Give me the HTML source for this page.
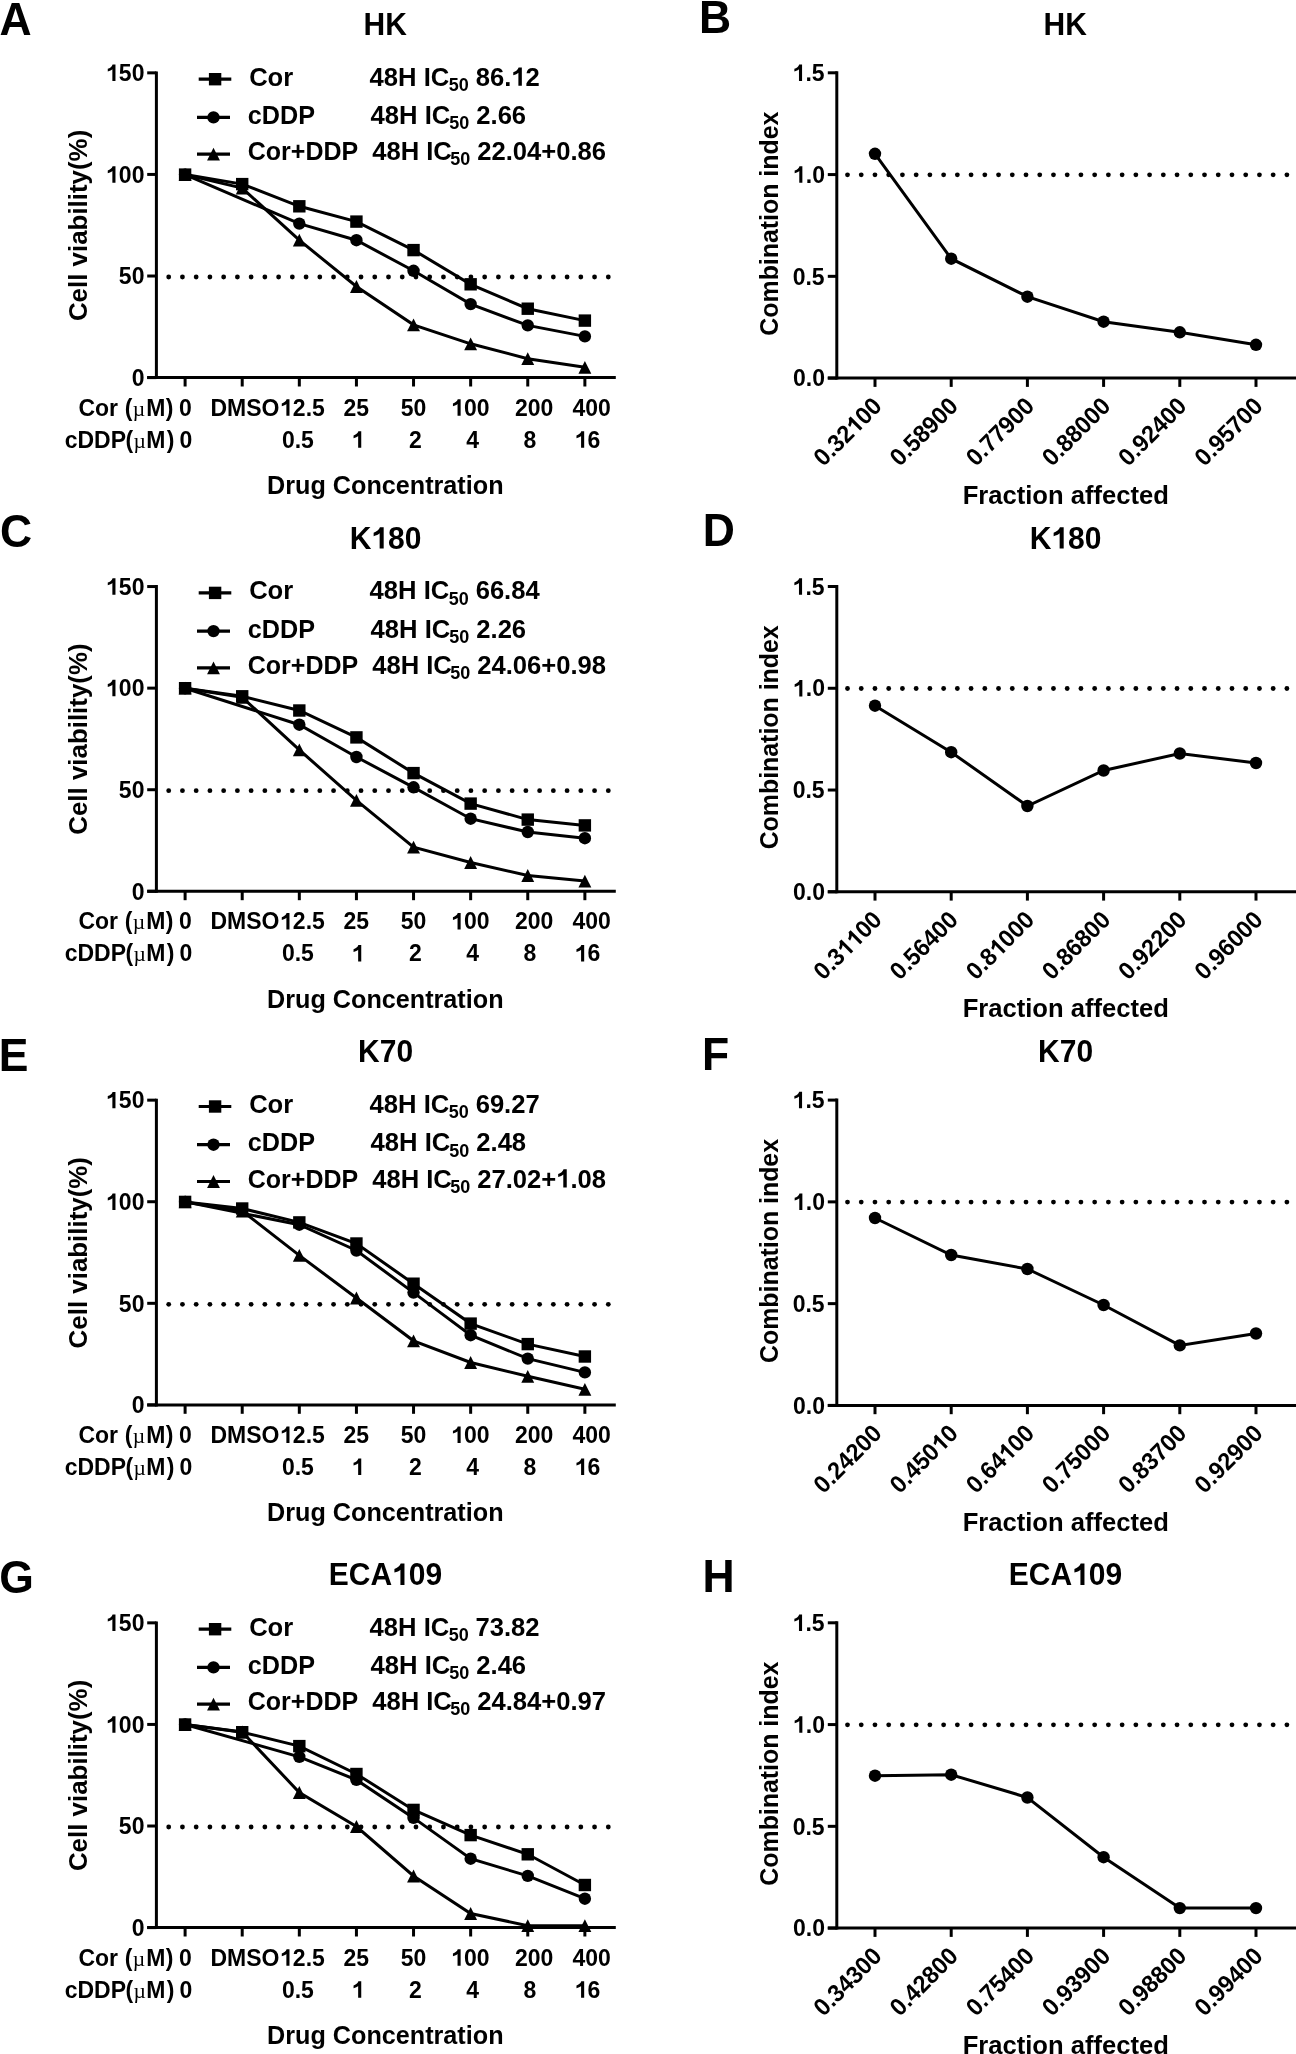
<!DOCTYPE html>
<html><head><meta charset="utf-8"><style>
html,body{margin:0;padding:0;background:#fff;}
svg{display:block;will-change:transform;}
text{font-kerning:none;}
</style></head><body>
<svg width="1296" height="2054" viewBox="0 0 1296 2054">
<rect width="1296" height="2054" fill="#fff"/>
<g font-family="Liberation Sans" font-weight="bold" font-size="44.50" transform="translate(-0.51 35.40) scale(1 1.040)"><text x="0.00" y="0">A</text></g>
<g font-family="Liberation Sans" font-weight="bold" font-size="44.50" transform="translate(699.02 32.60) scale(1 1.040)"><text x="0.00" y="0">B</text></g>
<g font-family="Liberation Sans" font-weight="bold" font-size="30.00" transform="translate(363.47 34.90) scale(1 1.040)"><text x="0.00" y="0">HK</text></g>
<g font-family="Liberation Sans" font-weight="bold" font-size="30.00" transform="translate(1043.47 34.90) scale(1 1.040)"><text x="0.00" y="0">HK</text></g>
<line x1="156.40" y1="71.40" x2="156.40" y2="379.10" stroke="#000" stroke-width="3.00"/>
<line x1="147.20" y1="377.60" x2="615.80" y2="377.60" stroke="#000" stroke-width="3.00"/>
<line x1="147.20" y1="72.85" x2="156.40" y2="72.85" stroke="#000" stroke-width="3.00"/>
<g font-family="Liberation Sans" font-weight="bold" font-size="23.00" transform="translate(106.07 81.05) scale(1 1.040)"><path transform="translate(0.00 0) scale(0.01123 -0.01123)" d="M837 0L561 0L561 1002C470 921 330 855 151 809L151 1048C246 1075 340 1125 420 1188C500 1251 552 1326 580 1409L837 1409Z"/><text x="12.79" y="0">50</text></g>
<line x1="147.20" y1="174.43" x2="156.40" y2="174.43" stroke="#000" stroke-width="3.00"/>
<g font-family="Liberation Sans" font-weight="bold" font-size="23.00" transform="translate(106.07 182.63) scale(1 1.040)"><path transform="translate(0.00 0) scale(0.01123 -0.01123)" d="M837 0L561 0L561 1002C470 921 330 855 151 809L151 1048C246 1075 340 1125 420 1188C500 1251 552 1326 580 1409L837 1409Z"/><text x="12.79" y="0">00</text></g>
<line x1="147.20" y1="276.02" x2="156.40" y2="276.02" stroke="#000" stroke-width="3.00"/>
<g font-family="Liberation Sans" font-weight="bold" font-size="23.00" transform="translate(118.86 284.22) scale(1 1.040)"><text x="0.00" y="0">50</text></g>
<line x1="147.20" y1="377.60" x2="156.40" y2="377.60" stroke="#000" stroke-width="3.00"/>
<g font-family="Liberation Sans" font-weight="bold" font-size="23.00" transform="translate(131.65 385.80) scale(1 1.040)"><text x="0.00" y="0">0</text></g>
<line x1="185.10" y1="377.60" x2="185.10" y2="386.50" stroke="#000" stroke-width="3.00"/>
<line x1="242.21" y1="377.60" x2="242.21" y2="386.50" stroke="#000" stroke-width="3.00"/>
<line x1="299.32" y1="377.60" x2="299.32" y2="386.50" stroke="#000" stroke-width="3.00"/>
<line x1="356.43" y1="377.60" x2="356.43" y2="386.50" stroke="#000" stroke-width="3.00"/>
<line x1="413.54" y1="377.60" x2="413.54" y2="386.50" stroke="#000" stroke-width="3.00"/>
<line x1="470.65" y1="377.60" x2="470.65" y2="386.50" stroke="#000" stroke-width="3.00"/>
<line x1="527.76" y1="377.60" x2="527.76" y2="386.50" stroke="#000" stroke-width="3.00"/>
<line x1="584.87" y1="377.60" x2="584.87" y2="386.50" stroke="#000" stroke-width="3.00"/>
<g font-family="Liberation Sans" font-weight="bold" font-size="23.00" transform="translate(78.46 415.70) scale(1 1.040)"><text x="0.00" y="0">Cor</text></g>
<g font-family="Liberation Sans" font-weight="bold" font-size="23.00" transform="translate(124.75 415.70)"><text x="0.00" y="0">(</text></g>
<g font-family="Liberation Serif" font-weight="normal" font-size="21.50" transform="translate(132.71 415.70)"><text x="0.00" y="0">µ</text></g>
<g font-family="Liberation Sans" font-weight="bold" font-size="23.00" transform="translate(146.16 415.70) scale(1 1.040)"><text x="0.00" y="0">M</text></g>
<g font-family="Liberation Sans" font-weight="bold" font-size="23.00" transform="translate(165.78 415.70)"><text x="0.00" y="0">)</text></g>
<g font-family="Liberation Sans" font-weight="bold" font-size="23.00" transform="translate(179.02 415.70) scale(1 1.040)"><text x="0.00" y="0">0</text></g>
<g font-family="Liberation Sans" font-weight="bold" font-size="23.00" transform="translate(210.46 415.70) scale(1 1.040)"><text x="0.00" y="0">DMSO</text></g>
<g font-family="Liberation Sans" font-weight="bold" font-size="23.00" transform="translate(280.08 415.70) scale(1 1.040)"><path transform="translate(0.00 0) scale(0.01123 -0.01123)" d="M837 0L561 0L561 1002C470 921 330 855 151 809L151 1048C246 1075 340 1125 420 1188C500 1251 552 1326 580 1409L837 1409Z"/><text x="12.79" y="0">2.5</text></g>
<g font-family="Liberation Sans" font-weight="bold" font-size="23.00" transform="translate(343.53 415.70) scale(1 1.040)"><text x="0.00" y="0">25</text></g>
<g font-family="Liberation Sans" font-weight="bold" font-size="23.00" transform="translate(400.83 415.70) scale(1 1.040)"><text x="0.00" y="0">50</text></g>
<g font-family="Liberation Sans" font-weight="bold" font-size="23.00" transform="translate(451.24 415.70) scale(1 1.040)"><path transform="translate(0.00 0) scale(0.01123 -0.01123)" d="M837 0L561 0L561 1002C470 921 330 855 151 809L151 1048C246 1075 340 1125 420 1188C500 1251 552 1326 580 1409L837 1409Z"/><text x="12.79" y="0">00</text></g>
<g font-family="Liberation Sans" font-weight="bold" font-size="23.00" transform="translate(514.89 415.70) scale(1 1.040)"><text x="0.00" y="0">200</text></g>
<g font-family="Liberation Sans" font-weight="bold" font-size="23.00" transform="translate(572.41 415.70) scale(1 1.040)"><text x="0.00" y="0">400</text></g>
<g font-family="Liberation Sans" font-weight="bold" font-size="23.00" transform="translate(64.70 447.70) scale(1 1.040)"><text x="0.00" y="0">cDDP</text></g>
<g font-family="Liberation Sans" font-weight="bold" font-size="23.00" transform="translate(125.45 447.70)"><text x="0.00" y="0">(</text></g>
<g font-family="Liberation Serif" font-weight="normal" font-size="21.50" transform="translate(133.51 447.70)"><text x="0.00" y="0">µ</text></g>
<g font-family="Liberation Sans" font-weight="bold" font-size="23.00" transform="translate(146.16 447.70) scale(1 1.040)"><text x="0.00" y="0">M</text></g>
<g font-family="Liberation Sans" font-weight="bold" font-size="23.00" transform="translate(166.78 447.70)"><text x="0.00" y="0">)</text></g>
<g font-family="Liberation Sans" font-weight="bold" font-size="23.00" transform="translate(179.62 447.70) scale(1 1.040)"><text x="0.00" y="0">0</text></g>
<g font-family="Liberation Sans" font-weight="bold" font-size="23.00" transform="translate(281.88 447.70) scale(1 1.040)"><text x="0.00" y="0">0.5</text></g>
<g font-family="Liberation Sans" font-weight="bold" font-size="23.00" transform="translate(351.85 447.70) scale(1 1.040)"><path transform="translate(0.00 0) scale(0.01123 -0.01123)" d="M837 0L561 0L561 1002C470 921 330 855 151 809L151 1048C246 1075 340 1125 420 1188C500 1251 552 1326 580 1409L837 1409Z"/></g>
<g font-family="Liberation Sans" font-weight="bold" font-size="23.00" transform="translate(409.07 447.70) scale(1 1.040)"><text x="0.00" y="0">2</text></g>
<g font-family="Liberation Sans" font-weight="bold" font-size="23.00" transform="translate(466.19 447.70) scale(1 1.040)"><text x="0.00" y="0">4</text></g>
<g font-family="Liberation Sans" font-weight="bold" font-size="23.00" transform="translate(523.59 447.70) scale(1 1.040)"><text x="0.00" y="0">8</text></g>
<g font-family="Liberation Sans" font-weight="bold" font-size="23.00" transform="translate(574.78 447.70) scale(1 1.040)"><path transform="translate(0.00 0) scale(0.01123 -0.01123)" d="M837 0L561 0L561 1002C470 921 330 855 151 809L151 1048C246 1075 340 1125 420 1188C500 1251 552 1326 580 1409L837 1409Z"/><text x="12.79" y="0">6</text></g>
<g font-family="Liberation Sans" font-weight="bold" font-size="25.90" transform="translate(87.40 321.09) rotate(-90)"><text x="0.00" y="0">Cell viability(%)</text></g>
<g font-family="Liberation Sans" font-weight="bold" font-size="25.20" transform="translate(267.04 494.10)"><text x="0.00" y="0">Drug Concentration</text></g>
<circle cx="168.70" cy="277.00" r="2.40"/>
<circle cx="182.44" cy="277.00" r="2.40"/>
<circle cx="196.17" cy="277.00" r="2.40"/>
<circle cx="209.91" cy="277.00" r="2.40"/>
<circle cx="223.65" cy="277.00" r="2.40"/>
<circle cx="237.39" cy="277.00" r="2.40"/>
<circle cx="251.12" cy="277.00" r="2.40"/>
<circle cx="264.86" cy="277.00" r="2.40"/>
<circle cx="278.60" cy="277.00" r="2.40"/>
<circle cx="292.34" cy="277.00" r="2.40"/>
<circle cx="306.07" cy="277.00" r="2.40"/>
<circle cx="319.81" cy="277.00" r="2.40"/>
<circle cx="333.55" cy="277.00" r="2.40"/>
<circle cx="347.29" cy="277.00" r="2.40"/>
<circle cx="361.02" cy="277.00" r="2.40"/>
<circle cx="374.76" cy="277.00" r="2.40"/>
<circle cx="388.50" cy="277.00" r="2.40"/>
<circle cx="402.24" cy="277.00" r="2.40"/>
<circle cx="415.97" cy="277.00" r="2.40"/>
<circle cx="429.71" cy="277.00" r="2.40"/>
<circle cx="443.45" cy="277.00" r="2.40"/>
<circle cx="457.19" cy="277.00" r="2.40"/>
<circle cx="470.92" cy="277.00" r="2.40"/>
<circle cx="484.66" cy="277.00" r="2.40"/>
<circle cx="498.40" cy="277.00" r="2.40"/>
<circle cx="512.14" cy="277.00" r="2.40"/>
<circle cx="525.88" cy="277.00" r="2.40"/>
<circle cx="539.61" cy="277.00" r="2.40"/>
<circle cx="553.35" cy="277.00" r="2.40"/>
<circle cx="567.09" cy="277.00" r="2.40"/>
<circle cx="580.82" cy="277.00" r="2.40"/>
<circle cx="594.56" cy="277.00" r="2.40"/>
<circle cx="608.30" cy="277.00" r="2.40"/>
<line x1="198.70" y1="79.20" x2="231.30" y2="79.20" stroke="#000" stroke-width="3.20"/>
<rect x="208.90" y="73.00" width="12.40" height="12.40"/>
<g font-family="Liberation Sans" font-weight="bold" font-size="25.60" transform="translate(249.15 85.70) scale(1 1.030)"><text x="0.00" y="0">Cor</text></g>
<g font-family="Liberation Sans" font-weight="bold" font-size="25.60" transform="translate(369.61 85.70) scale(1 1.030)"><text x="0.00" y="0">48H IC</text></g>
<g font-family="Liberation Sans" font-weight="bold" font-size="18.00" transform="translate(448.65 90.90) scale(1 1.040)"><text x="0.00" y="0">50</text></g>
<g font-family="Liberation Sans" font-weight="bold" font-size="25.60" transform="translate(475.79 85.70) scale(1 1.030)"><text x="0.00" y="0">86.</text><path transform="translate(35.59 0) scale(0.01250 -0.01250)" d="M837 0L561 0L561 1002C470 921 330 855 151 809L151 1048C246 1075 340 1125 420 1188C500 1251 552 1326 580 1409L837 1409Z"/><text x="49.83" y="0">2</text></g>
<line x1="197.00" y1="117.40" x2="230.00" y2="117.40" stroke="#000" stroke-width="3.20"/>
<circle cx="213.50" cy="117.40" r="6.20"/>
<g font-family="Liberation Sans" font-weight="bold" font-size="25.20" transform="translate(247.82 124.00) scale(1 1.030)"><text x="0.00" y="0">cDDP</text></g>
<g font-family="Liberation Sans" font-weight="bold" font-size="25.60" transform="translate(370.61 124.00) scale(1 1.030)"><text x="0.00" y="0">48H IC</text></g>
<g font-family="Liberation Sans" font-weight="bold" font-size="18.00" transform="translate(449.25 129.20) scale(1 1.040)"><text x="0.00" y="0">50</text></g>
<g font-family="Liberation Sans" font-weight="bold" font-size="25.60" transform="translate(476.31 124.00) scale(1 1.030)"><text x="0.00" y="0">2.66</text></g>
<line x1="197.00" y1="154.20" x2="230.00" y2="154.20" stroke="#000" stroke-width="3.20"/>
<polygon points="213.50,147.80 219.95,160.60 207.05,160.60"/>
<g font-family="Liberation Sans" font-weight="bold" font-size="25.00" transform="translate(247.77 160.20) scale(1 1.030)"><text x="0.00" y="0">Cor+DDP</text></g>
<g font-family="Liberation Sans" font-weight="bold" font-size="25.60" transform="translate(372.21 160.20) scale(1 1.030)"><text x="0.00" y="0">48H IC</text></g>
<g font-family="Liberation Sans" font-weight="bold" font-size="18.00" transform="translate(450.21 165.40) scale(1 1.040)"><text x="0.00" y="0">50</text></g>
<g font-family="Liberation Sans" font-weight="bold" font-size="25.60" transform="translate(477.27 160.20) scale(1 1.030)"><text x="0.00" y="0">22.04+0.86</text></g>
<polyline fill="none" stroke="#000" stroke-width="3.00" stroke-linejoin="miter" points="185.10,174.60 242.21,184.10 299.32,206.30 356.43,221.60 413.54,250.10 470.65,284.30 527.76,308.70 584.87,320.60"/>
<polyline fill="none" stroke="#000" stroke-width="3.00" stroke-linejoin="miter" points="185.10,174.60 299.32,223.60 356.43,240.20 413.54,270.80 470.65,304.10 527.76,325.40 584.87,336.40"/>
<polyline fill="none" stroke="#000" stroke-width="3.00" stroke-linejoin="miter" points="185.10,174.60 242.21,188.10 299.32,240.20 356.43,286.50 413.54,324.80 470.65,343.80 527.76,358.70 584.87,367.30"/>
<polygon points="185.10,168.20 191.55,181.00 178.65,181.00"/>
<polygon points="242.21,181.70 248.66,194.50 235.76,194.50"/>
<polygon points="299.32,233.80 305.77,246.60 292.87,246.60"/>
<polygon points="356.43,280.10 362.88,292.90 349.98,292.90"/>
<polygon points="413.54,318.40 419.99,331.20 407.09,331.20"/>
<polygon points="470.65,337.40 477.10,350.20 464.20,350.20"/>
<polygon points="527.76,352.30 534.21,365.10 521.31,365.10"/>
<polygon points="584.87,360.90 591.32,373.70 578.42,373.70"/>
<circle cx="185.10" cy="174.60" r="6.20"/>
<circle cx="299.32" cy="223.60" r="6.20"/>
<circle cx="356.43" cy="240.20" r="6.20"/>
<circle cx="413.54" cy="270.80" r="6.20"/>
<circle cx="470.65" cy="304.10" r="6.20"/>
<circle cx="527.76" cy="325.40" r="6.20"/>
<circle cx="584.87" cy="336.40" r="6.20"/>
<rect x="178.90" y="168.40" width="12.40" height="12.40"/>
<rect x="236.01" y="177.90" width="12.40" height="12.40"/>
<rect x="293.12" y="200.10" width="12.40" height="12.40"/>
<rect x="350.23" y="215.40" width="12.40" height="12.40"/>
<rect x="407.34" y="243.90" width="12.40" height="12.40"/>
<rect x="464.45" y="278.10" width="12.40" height="12.40"/>
<rect x="521.56" y="302.50" width="12.40" height="12.40"/>
<rect x="578.67" y="314.40" width="12.40" height="12.40"/>
<line x1="836.80" y1="71.30" x2="836.80" y2="379.60" stroke="#000" stroke-width="3.00"/>
<line x1="827.80" y1="378.10" x2="1300.00" y2="378.10" stroke="#000" stroke-width="3.00"/>
<line x1="827.80" y1="72.80" x2="836.80" y2="72.80" stroke="#000" stroke-width="3.00"/>
<g font-family="Liberation Sans" font-weight="bold" font-size="23.00" transform="translate(792.67 81.00) scale(1 1.040)"><path transform="translate(0.00 0) scale(0.01123 -0.01123)" d="M837 0L561 0L561 1002C470 921 330 855 151 809L151 1048C246 1075 340 1125 420 1188C500 1251 552 1326 580 1409L837 1409Z"/><text x="12.79" y="0">.5</text></g>
<line x1="827.80" y1="174.57" x2="836.80" y2="174.57" stroke="#000" stroke-width="3.00"/>
<g font-family="Liberation Sans" font-weight="bold" font-size="23.00" transform="translate(792.97 182.77) scale(1 1.040)"><path transform="translate(0.00 0) scale(0.01123 -0.01123)" d="M837 0L561 0L561 1002C470 921 330 855 151 809L151 1048C246 1075 340 1125 420 1188C500 1251 552 1326 580 1409L837 1409Z"/><text x="12.79" y="0">.0</text></g>
<line x1="827.80" y1="276.33" x2="836.80" y2="276.33" stroke="#000" stroke-width="3.00"/>
<g font-family="Liberation Sans" font-weight="bold" font-size="23.00" transform="translate(792.67 284.53) scale(1 1.040)"><text x="0.00" y="0">0.5</text></g>
<line x1="827.80" y1="378.10" x2="836.80" y2="378.10" stroke="#000" stroke-width="3.00"/>
<g font-family="Liberation Sans" font-weight="bold" font-size="23.00" transform="translate(792.97 386.30) scale(1 1.040)"><text x="0.00" y="0">0.0</text></g>
<line x1="875.00" y1="378.10" x2="875.00" y2="386.90" stroke="#000" stroke-width="3.00"/>
<g font-family="Liberation Sans" font-weight="bold" font-size="23.40" transform="translate(883.30 407.50) rotate(-45) scale(1 1.040)"><text x="-84.59" y="0">0.32</text><path transform="translate(-39.04 0) scale(0.01143 -0.01143)" d="M837 0L561 0L561 1002C470 921 330 855 151 809L151 1048C246 1075 340 1125 420 1188C500 1251 552 1326 580 1409L837 1409Z"/><text x="-26.03" y="0">00</text></g>
<line x1="951.20" y1="378.10" x2="951.20" y2="386.90" stroke="#000" stroke-width="3.00"/>
<g font-family="Liberation Sans" font-weight="bold" font-size="23.40" transform="translate(959.50 407.50) rotate(-45) scale(1 1.040)"><text x="-84.59" y="0">0.58900</text></g>
<line x1="1027.40" y1="378.10" x2="1027.40" y2="386.90" stroke="#000" stroke-width="3.00"/>
<g font-family="Liberation Sans" font-weight="bold" font-size="23.40" transform="translate(1035.70 407.50) rotate(-45) scale(1 1.040)"><text x="-84.59" y="0">0.77900</text></g>
<line x1="1103.60" y1="378.10" x2="1103.60" y2="386.90" stroke="#000" stroke-width="3.00"/>
<g font-family="Liberation Sans" font-weight="bold" font-size="23.40" transform="translate(1111.90 407.50) rotate(-45) scale(1 1.040)"><text x="-84.59" y="0">0.88000</text></g>
<line x1="1179.80" y1="378.10" x2="1179.80" y2="386.90" stroke="#000" stroke-width="3.00"/>
<g font-family="Liberation Sans" font-weight="bold" font-size="23.40" transform="translate(1188.10 407.50) rotate(-45) scale(1 1.040)"><text x="-84.59" y="0">0.92400</text></g>
<line x1="1256.00" y1="378.10" x2="1256.00" y2="386.90" stroke="#000" stroke-width="3.00"/>
<g font-family="Liberation Sans" font-weight="bold" font-size="23.40" transform="translate(1264.30 407.50) rotate(-45) scale(1 1.040)"><text x="-84.59" y="0">0.95700</text></g>
<g font-family="Liberation Sans" font-weight="bold" font-size="24.90" transform="translate(778.20 335.67) rotate(-90)"><text x="0.00" y="0">Combination index</text></g>
<g font-family="Liberation Sans" font-weight="bold" font-size="25.60" transform="translate(962.66 503.70)"><text x="0.00" y="0">Fraction affected</text></g>
<circle cx="847.50" cy="174.80" r="2.40"/>
<circle cx="861.23" cy="174.80" r="2.40"/>
<circle cx="874.96" cy="174.80" r="2.40"/>
<circle cx="888.69" cy="174.80" r="2.40"/>
<circle cx="902.42" cy="174.80" r="2.40"/>
<circle cx="916.16" cy="174.80" r="2.40"/>
<circle cx="929.89" cy="174.80" r="2.40"/>
<circle cx="943.62" cy="174.80" r="2.40"/>
<circle cx="957.35" cy="174.80" r="2.40"/>
<circle cx="971.08" cy="174.80" r="2.40"/>
<circle cx="984.81" cy="174.80" r="2.40"/>
<circle cx="998.54" cy="174.80" r="2.40"/>
<circle cx="1012.28" cy="174.80" r="2.40"/>
<circle cx="1026.01" cy="174.80" r="2.40"/>
<circle cx="1039.74" cy="174.80" r="2.40"/>
<circle cx="1053.47" cy="174.80" r="2.40"/>
<circle cx="1067.20" cy="174.80" r="2.40"/>
<circle cx="1080.93" cy="174.80" r="2.40"/>
<circle cx="1094.66" cy="174.80" r="2.40"/>
<circle cx="1108.39" cy="174.80" r="2.40"/>
<circle cx="1122.12" cy="174.80" r="2.40"/>
<circle cx="1135.86" cy="174.80" r="2.40"/>
<circle cx="1149.59" cy="174.80" r="2.40"/>
<circle cx="1163.32" cy="174.80" r="2.40"/>
<circle cx="1177.05" cy="174.80" r="2.40"/>
<circle cx="1190.78" cy="174.80" r="2.40"/>
<circle cx="1204.51" cy="174.80" r="2.40"/>
<circle cx="1218.24" cy="174.80" r="2.40"/>
<circle cx="1231.98" cy="174.80" r="2.40"/>
<circle cx="1245.71" cy="174.80" r="2.40"/>
<circle cx="1259.44" cy="174.80" r="2.40"/>
<circle cx="1273.17" cy="174.80" r="2.40"/>
<circle cx="1286.90" cy="174.80" r="2.40"/>
<polyline fill="none" stroke="#000" stroke-width="3.00" stroke-linejoin="miter" points="875.00,153.80 951.20,258.70 1027.40,296.70 1103.60,321.70 1179.80,332.30 1256.00,344.80"/>
<circle cx="875.00" cy="153.80" r="6.20"/>
<circle cx="951.20" cy="258.70" r="6.20"/>
<circle cx="1027.40" cy="296.70" r="6.20"/>
<circle cx="1103.60" cy="321.70" r="6.20"/>
<circle cx="1179.80" cy="332.30" r="6.20"/>
<circle cx="1256.00" cy="344.80" r="6.20"/>
<g font-family="Liberation Sans" font-weight="bold" font-size="44.50" transform="translate(0.07 547.30) scale(1 1.040)"><text x="0.00" y="0">C</text></g>
<g font-family="Liberation Sans" font-weight="bold" font-size="44.50" transform="translate(702.82 545.90) scale(1 1.040)"><text x="0.00" y="0">D</text></g>
<g font-family="Liberation Sans" font-weight="bold" font-size="30.00" transform="translate(349.75 548.60) scale(1 1.040)"><text x="0.00" y="0">K</text><path transform="translate(21.67 0) scale(0.01465 -0.01465)" d="M837 0L561 0L561 1002C470 921 330 855 151 809L151 1048C246 1075 340 1125 420 1188C500 1251 552 1326 580 1409L837 1409Z"/><text x="38.35" y="0">80</text></g>
<g font-family="Liberation Sans" font-weight="bold" font-size="30.00" transform="translate(1029.75 548.60) scale(1 1.040)"><text x="0.00" y="0">K</text><path transform="translate(21.67 0) scale(0.01465 -0.01465)" d="M837 0L561 0L561 1002C470 921 330 855 151 809L151 1048C246 1075 340 1125 420 1188C500 1251 552 1326 580 1409L837 1409Z"/><text x="38.35" y="0">80</text></g>
<line x1="156.40" y1="585.10" x2="156.40" y2="892.80" stroke="#000" stroke-width="3.00"/>
<line x1="147.20" y1="891.30" x2="615.80" y2="891.30" stroke="#000" stroke-width="3.00"/>
<line x1="147.20" y1="586.55" x2="156.40" y2="586.55" stroke="#000" stroke-width="3.00"/>
<g font-family="Liberation Sans" font-weight="bold" font-size="23.00" transform="translate(106.07 594.75) scale(1 1.040)"><path transform="translate(0.00 0) scale(0.01123 -0.01123)" d="M837 0L561 0L561 1002C470 921 330 855 151 809L151 1048C246 1075 340 1125 420 1188C500 1251 552 1326 580 1409L837 1409Z"/><text x="12.79" y="0">50</text></g>
<line x1="147.20" y1="688.13" x2="156.40" y2="688.13" stroke="#000" stroke-width="3.00"/>
<g font-family="Liberation Sans" font-weight="bold" font-size="23.00" transform="translate(106.07 696.33) scale(1 1.040)"><path transform="translate(0.00 0) scale(0.01123 -0.01123)" d="M837 0L561 0L561 1002C470 921 330 855 151 809L151 1048C246 1075 340 1125 420 1188C500 1251 552 1326 580 1409L837 1409Z"/><text x="12.79" y="0">00</text></g>
<line x1="147.20" y1="789.72" x2="156.40" y2="789.72" stroke="#000" stroke-width="3.00"/>
<g font-family="Liberation Sans" font-weight="bold" font-size="23.00" transform="translate(118.86 797.92) scale(1 1.040)"><text x="0.00" y="0">50</text></g>
<line x1="147.20" y1="891.30" x2="156.40" y2="891.30" stroke="#000" stroke-width="3.00"/>
<g font-family="Liberation Sans" font-weight="bold" font-size="23.00" transform="translate(131.65 899.50) scale(1 1.040)"><text x="0.00" y="0">0</text></g>
<line x1="185.10" y1="891.30" x2="185.10" y2="900.20" stroke="#000" stroke-width="3.00"/>
<line x1="242.21" y1="891.30" x2="242.21" y2="900.20" stroke="#000" stroke-width="3.00"/>
<line x1="299.32" y1="891.30" x2="299.32" y2="900.20" stroke="#000" stroke-width="3.00"/>
<line x1="356.43" y1="891.30" x2="356.43" y2="900.20" stroke="#000" stroke-width="3.00"/>
<line x1="413.54" y1="891.30" x2="413.54" y2="900.20" stroke="#000" stroke-width="3.00"/>
<line x1="470.65" y1="891.30" x2="470.65" y2="900.20" stroke="#000" stroke-width="3.00"/>
<line x1="527.76" y1="891.30" x2="527.76" y2="900.20" stroke="#000" stroke-width="3.00"/>
<line x1="584.87" y1="891.30" x2="584.87" y2="900.20" stroke="#000" stroke-width="3.00"/>
<g font-family="Liberation Sans" font-weight="bold" font-size="23.00" transform="translate(78.46 929.40) scale(1 1.040)"><text x="0.00" y="0">Cor</text></g>
<g font-family="Liberation Sans" font-weight="bold" font-size="23.00" transform="translate(124.75 929.40)"><text x="0.00" y="0">(</text></g>
<g font-family="Liberation Serif" font-weight="normal" font-size="21.50" transform="translate(132.71 929.40)"><text x="0.00" y="0">µ</text></g>
<g font-family="Liberation Sans" font-weight="bold" font-size="23.00" transform="translate(146.16 929.40) scale(1 1.040)"><text x="0.00" y="0">M</text></g>
<g font-family="Liberation Sans" font-weight="bold" font-size="23.00" transform="translate(165.78 929.40)"><text x="0.00" y="0">)</text></g>
<g font-family="Liberation Sans" font-weight="bold" font-size="23.00" transform="translate(179.02 929.40) scale(1 1.040)"><text x="0.00" y="0">0</text></g>
<g font-family="Liberation Sans" font-weight="bold" font-size="23.00" transform="translate(210.46 929.40) scale(1 1.040)"><text x="0.00" y="0">DMSO</text></g>
<g font-family="Liberation Sans" font-weight="bold" font-size="23.00" transform="translate(280.08 929.40) scale(1 1.040)"><path transform="translate(0.00 0) scale(0.01123 -0.01123)" d="M837 0L561 0L561 1002C470 921 330 855 151 809L151 1048C246 1075 340 1125 420 1188C500 1251 552 1326 580 1409L837 1409Z"/><text x="12.79" y="0">2.5</text></g>
<g font-family="Liberation Sans" font-weight="bold" font-size="23.00" transform="translate(343.53 929.40) scale(1 1.040)"><text x="0.00" y="0">25</text></g>
<g font-family="Liberation Sans" font-weight="bold" font-size="23.00" transform="translate(400.83 929.40) scale(1 1.040)"><text x="0.00" y="0">50</text></g>
<g font-family="Liberation Sans" font-weight="bold" font-size="23.00" transform="translate(451.24 929.40) scale(1 1.040)"><path transform="translate(0.00 0) scale(0.01123 -0.01123)" d="M837 0L561 0L561 1002C470 921 330 855 151 809L151 1048C246 1075 340 1125 420 1188C500 1251 552 1326 580 1409L837 1409Z"/><text x="12.79" y="0">00</text></g>
<g font-family="Liberation Sans" font-weight="bold" font-size="23.00" transform="translate(514.89 929.40) scale(1 1.040)"><text x="0.00" y="0">200</text></g>
<g font-family="Liberation Sans" font-weight="bold" font-size="23.00" transform="translate(572.41 929.40) scale(1 1.040)"><text x="0.00" y="0">400</text></g>
<g font-family="Liberation Sans" font-weight="bold" font-size="23.00" transform="translate(64.70 961.40) scale(1 1.040)"><text x="0.00" y="0">cDDP</text></g>
<g font-family="Liberation Sans" font-weight="bold" font-size="23.00" transform="translate(125.45 961.40)"><text x="0.00" y="0">(</text></g>
<g font-family="Liberation Serif" font-weight="normal" font-size="21.50" transform="translate(133.51 961.40)"><text x="0.00" y="0">µ</text></g>
<g font-family="Liberation Sans" font-weight="bold" font-size="23.00" transform="translate(146.16 961.40) scale(1 1.040)"><text x="0.00" y="0">M</text></g>
<g font-family="Liberation Sans" font-weight="bold" font-size="23.00" transform="translate(166.78 961.40)"><text x="0.00" y="0">)</text></g>
<g font-family="Liberation Sans" font-weight="bold" font-size="23.00" transform="translate(179.62 961.40) scale(1 1.040)"><text x="0.00" y="0">0</text></g>
<g font-family="Liberation Sans" font-weight="bold" font-size="23.00" transform="translate(281.88 961.40) scale(1 1.040)"><text x="0.00" y="0">0.5</text></g>
<g font-family="Liberation Sans" font-weight="bold" font-size="23.00" transform="translate(351.85 961.40) scale(1 1.040)"><path transform="translate(0.00 0) scale(0.01123 -0.01123)" d="M837 0L561 0L561 1002C470 921 330 855 151 809L151 1048C246 1075 340 1125 420 1188C500 1251 552 1326 580 1409L837 1409Z"/></g>
<g font-family="Liberation Sans" font-weight="bold" font-size="23.00" transform="translate(409.07 961.40) scale(1 1.040)"><text x="0.00" y="0">2</text></g>
<g font-family="Liberation Sans" font-weight="bold" font-size="23.00" transform="translate(466.19 961.40) scale(1 1.040)"><text x="0.00" y="0">4</text></g>
<g font-family="Liberation Sans" font-weight="bold" font-size="23.00" transform="translate(523.59 961.40) scale(1 1.040)"><text x="0.00" y="0">8</text></g>
<g font-family="Liberation Sans" font-weight="bold" font-size="23.00" transform="translate(574.78 961.40) scale(1 1.040)"><path transform="translate(0.00 0) scale(0.01123 -0.01123)" d="M837 0L561 0L561 1002C470 921 330 855 151 809L151 1048C246 1075 340 1125 420 1188C500 1251 552 1326 580 1409L837 1409Z"/><text x="12.79" y="0">6</text></g>
<g font-family="Liberation Sans" font-weight="bold" font-size="25.90" transform="translate(87.40 834.79) rotate(-90)"><text x="0.00" y="0">Cell viability(%)</text></g>
<g font-family="Liberation Sans" font-weight="bold" font-size="25.20" transform="translate(267.04 1007.80)"><text x="0.00" y="0">Drug Concentration</text></g>
<circle cx="168.70" cy="790.70" r="2.40"/>
<circle cx="182.44" cy="790.70" r="2.40"/>
<circle cx="196.17" cy="790.70" r="2.40"/>
<circle cx="209.91" cy="790.70" r="2.40"/>
<circle cx="223.65" cy="790.70" r="2.40"/>
<circle cx="237.39" cy="790.70" r="2.40"/>
<circle cx="251.12" cy="790.70" r="2.40"/>
<circle cx="264.86" cy="790.70" r="2.40"/>
<circle cx="278.60" cy="790.70" r="2.40"/>
<circle cx="292.34" cy="790.70" r="2.40"/>
<circle cx="306.07" cy="790.70" r="2.40"/>
<circle cx="319.81" cy="790.70" r="2.40"/>
<circle cx="333.55" cy="790.70" r="2.40"/>
<circle cx="347.29" cy="790.70" r="2.40"/>
<circle cx="361.02" cy="790.70" r="2.40"/>
<circle cx="374.76" cy="790.70" r="2.40"/>
<circle cx="388.50" cy="790.70" r="2.40"/>
<circle cx="402.24" cy="790.70" r="2.40"/>
<circle cx="415.97" cy="790.70" r="2.40"/>
<circle cx="429.71" cy="790.70" r="2.40"/>
<circle cx="443.45" cy="790.70" r="2.40"/>
<circle cx="457.19" cy="790.70" r="2.40"/>
<circle cx="470.92" cy="790.70" r="2.40"/>
<circle cx="484.66" cy="790.70" r="2.40"/>
<circle cx="498.40" cy="790.70" r="2.40"/>
<circle cx="512.14" cy="790.70" r="2.40"/>
<circle cx="525.88" cy="790.70" r="2.40"/>
<circle cx="539.61" cy="790.70" r="2.40"/>
<circle cx="553.35" cy="790.70" r="2.40"/>
<circle cx="567.09" cy="790.70" r="2.40"/>
<circle cx="580.82" cy="790.70" r="2.40"/>
<circle cx="594.56" cy="790.70" r="2.40"/>
<circle cx="608.30" cy="790.70" r="2.40"/>
<line x1="198.70" y1="592.90" x2="231.30" y2="592.90" stroke="#000" stroke-width="3.20"/>
<rect x="208.90" y="586.70" width="12.40" height="12.40"/>
<g font-family="Liberation Sans" font-weight="bold" font-size="25.60" transform="translate(249.15 599.40) scale(1 1.030)"><text x="0.00" y="0">Cor</text></g>
<g font-family="Liberation Sans" font-weight="bold" font-size="25.60" transform="translate(369.61 599.40) scale(1 1.030)"><text x="0.00" y="0">48H IC</text></g>
<g font-family="Liberation Sans" font-weight="bold" font-size="18.00" transform="translate(448.65 604.60) scale(1 1.040)"><text x="0.00" y="0">50</text></g>
<g font-family="Liberation Sans" font-weight="bold" font-size="25.60" transform="translate(475.66 599.40) scale(1 1.030)"><text x="0.00" y="0">66.84</text></g>
<line x1="197.00" y1="631.10" x2="230.00" y2="631.10" stroke="#000" stroke-width="3.20"/>
<circle cx="213.50" cy="631.10" r="6.20"/>
<g font-family="Liberation Sans" font-weight="bold" font-size="25.20" transform="translate(247.82 637.70) scale(1 1.030)"><text x="0.00" y="0">cDDP</text></g>
<g font-family="Liberation Sans" font-weight="bold" font-size="25.60" transform="translate(370.61 637.70) scale(1 1.030)"><text x="0.00" y="0">48H IC</text></g>
<g font-family="Liberation Sans" font-weight="bold" font-size="18.00" transform="translate(449.25 642.90) scale(1 1.040)"><text x="0.00" y="0">50</text></g>
<g font-family="Liberation Sans" font-weight="bold" font-size="25.60" transform="translate(476.31 637.70) scale(1 1.030)"><text x="0.00" y="0">2.26</text></g>
<line x1="197.00" y1="667.90" x2="230.00" y2="667.90" stroke="#000" stroke-width="3.20"/>
<polygon points="213.50,661.50 219.95,674.30 207.05,674.30"/>
<g font-family="Liberation Sans" font-weight="bold" font-size="25.00" transform="translate(247.77 673.90) scale(1 1.030)"><text x="0.00" y="0">Cor+DDP</text></g>
<g font-family="Liberation Sans" font-weight="bold" font-size="25.60" transform="translate(372.21 673.90) scale(1 1.030)"><text x="0.00" y="0">48H IC</text></g>
<g font-family="Liberation Sans" font-weight="bold" font-size="18.00" transform="translate(450.21 679.10) scale(1 1.040)"><text x="0.00" y="0">50</text></g>
<g font-family="Liberation Sans" font-weight="bold" font-size="25.60" transform="translate(477.27 673.90) scale(1 1.030)"><text x="0.00" y="0">24.06+0.98</text></g>
<polyline fill="none" stroke="#000" stroke-width="3.00" stroke-linejoin="miter" points="185.10,688.20 242.21,696.30 299.32,710.50 356.43,737.40 413.54,773.10 470.65,803.60 527.76,819.60 584.87,825.40"/>
<polyline fill="none" stroke="#000" stroke-width="3.00" stroke-linejoin="miter" points="185.10,688.20 299.32,724.70 356.43,757.00 413.54,787.30 470.65,818.70 527.76,832.00 584.87,838.20"/>
<polyline fill="none" stroke="#000" stroke-width="3.00" stroke-linejoin="miter" points="185.10,688.20 242.21,697.30 299.32,749.90 356.43,800.40 413.54,847.20 470.65,862.50 527.76,875.50 584.87,881.10"/>
<polygon points="185.10,681.80 191.55,694.60 178.65,694.60"/>
<polygon points="242.21,690.90 248.66,703.70 235.76,703.70"/>
<polygon points="299.32,743.50 305.77,756.30 292.87,756.30"/>
<polygon points="356.43,794.00 362.88,806.80 349.98,806.80"/>
<polygon points="413.54,840.80 419.99,853.60 407.09,853.60"/>
<polygon points="470.65,856.10 477.10,868.90 464.20,868.90"/>
<polygon points="527.76,869.10 534.21,881.90 521.31,881.90"/>
<polygon points="584.87,874.70 591.32,887.50 578.42,887.50"/>
<circle cx="185.10" cy="688.20" r="6.20"/>
<circle cx="299.32" cy="724.70" r="6.20"/>
<circle cx="356.43" cy="757.00" r="6.20"/>
<circle cx="413.54" cy="787.30" r="6.20"/>
<circle cx="470.65" cy="818.70" r="6.20"/>
<circle cx="527.76" cy="832.00" r="6.20"/>
<circle cx="584.87" cy="838.20" r="6.20"/>
<rect x="178.90" y="682.00" width="12.40" height="12.40"/>
<rect x="236.01" y="690.10" width="12.40" height="12.40"/>
<rect x="293.12" y="704.30" width="12.40" height="12.40"/>
<rect x="350.23" y="731.20" width="12.40" height="12.40"/>
<rect x="407.34" y="766.90" width="12.40" height="12.40"/>
<rect x="464.45" y="797.40" width="12.40" height="12.40"/>
<rect x="521.56" y="813.40" width="12.40" height="12.40"/>
<rect x="578.67" y="819.20" width="12.40" height="12.40"/>
<line x1="836.80" y1="585.00" x2="836.80" y2="893.30" stroke="#000" stroke-width="3.00"/>
<line x1="827.80" y1="891.80" x2="1300.00" y2="891.80" stroke="#000" stroke-width="3.00"/>
<line x1="827.80" y1="586.50" x2="836.80" y2="586.50" stroke="#000" stroke-width="3.00"/>
<g font-family="Liberation Sans" font-weight="bold" font-size="23.00" transform="translate(792.67 594.70) scale(1 1.040)"><path transform="translate(0.00 0) scale(0.01123 -0.01123)" d="M837 0L561 0L561 1002C470 921 330 855 151 809L151 1048C246 1075 340 1125 420 1188C500 1251 552 1326 580 1409L837 1409Z"/><text x="12.79" y="0">.5</text></g>
<line x1="827.80" y1="688.27" x2="836.80" y2="688.27" stroke="#000" stroke-width="3.00"/>
<g font-family="Liberation Sans" font-weight="bold" font-size="23.00" transform="translate(792.97 696.47) scale(1 1.040)"><path transform="translate(0.00 0) scale(0.01123 -0.01123)" d="M837 0L561 0L561 1002C470 921 330 855 151 809L151 1048C246 1075 340 1125 420 1188C500 1251 552 1326 580 1409L837 1409Z"/><text x="12.79" y="0">.0</text></g>
<line x1="827.80" y1="790.03" x2="836.80" y2="790.03" stroke="#000" stroke-width="3.00"/>
<g font-family="Liberation Sans" font-weight="bold" font-size="23.00" transform="translate(792.67 798.23) scale(1 1.040)"><text x="0.00" y="0">0.5</text></g>
<line x1="827.80" y1="891.80" x2="836.80" y2="891.80" stroke="#000" stroke-width="3.00"/>
<g font-family="Liberation Sans" font-weight="bold" font-size="23.00" transform="translate(792.97 900.00) scale(1 1.040)"><text x="0.00" y="0">0.0</text></g>
<line x1="875.00" y1="891.80" x2="875.00" y2="900.60" stroke="#000" stroke-width="3.00"/>
<g font-family="Liberation Sans" font-weight="bold" font-size="23.40" transform="translate(883.30 921.20) rotate(-45) scale(1 1.040)"><text x="-84.59" y="0">0.3</text><path transform="translate(-52.06 0) scale(0.01143 -0.01143)" d="M837 0L561 0L561 1002C470 921 330 855 151 809L151 1048C246 1075 340 1125 420 1188C500 1251 552 1326 580 1409L837 1409Z"/><path transform="translate(-39.04 0) scale(0.01143 -0.01143)" d="M837 0L561 0L561 1002C470 921 330 855 151 809L151 1048C246 1075 340 1125 420 1188C500 1251 552 1326 580 1409L837 1409Z"/><text x="-26.03" y="0">00</text></g>
<line x1="951.20" y1="891.80" x2="951.20" y2="900.60" stroke="#000" stroke-width="3.00"/>
<g font-family="Liberation Sans" font-weight="bold" font-size="23.40" transform="translate(959.50 921.20) rotate(-45) scale(1 1.040)"><text x="-84.59" y="0">0.56400</text></g>
<line x1="1027.40" y1="891.80" x2="1027.40" y2="900.60" stroke="#000" stroke-width="3.00"/>
<g font-family="Liberation Sans" font-weight="bold" font-size="23.40" transform="translate(1035.70 921.20) rotate(-45) scale(1 1.040)"><text x="-84.59" y="0">0.8</text><path transform="translate(-52.06 0) scale(0.01143 -0.01143)" d="M837 0L561 0L561 1002C470 921 330 855 151 809L151 1048C246 1075 340 1125 420 1188C500 1251 552 1326 580 1409L837 1409Z"/><text x="-39.04" y="0">000</text></g>
<line x1="1103.60" y1="891.80" x2="1103.60" y2="900.60" stroke="#000" stroke-width="3.00"/>
<g font-family="Liberation Sans" font-weight="bold" font-size="23.40" transform="translate(1111.90 921.20) rotate(-45) scale(1 1.040)"><text x="-84.59" y="0">0.86800</text></g>
<line x1="1179.80" y1="891.80" x2="1179.80" y2="900.60" stroke="#000" stroke-width="3.00"/>
<g font-family="Liberation Sans" font-weight="bold" font-size="23.40" transform="translate(1188.10 921.20) rotate(-45) scale(1 1.040)"><text x="-84.59" y="0">0.92200</text></g>
<line x1="1256.00" y1="891.80" x2="1256.00" y2="900.60" stroke="#000" stroke-width="3.00"/>
<g font-family="Liberation Sans" font-weight="bold" font-size="23.40" transform="translate(1264.30 921.20) rotate(-45) scale(1 1.040)"><text x="-84.59" y="0">0.96000</text></g>
<g font-family="Liberation Sans" font-weight="bold" font-size="24.90" transform="translate(778.20 849.37) rotate(-90)"><text x="0.00" y="0">Combination index</text></g>
<g font-family="Liberation Sans" font-weight="bold" font-size="25.60" transform="translate(962.66 1017.40)"><text x="0.00" y="0">Fraction affected</text></g>
<circle cx="847.50" cy="688.50" r="2.40"/>
<circle cx="861.23" cy="688.50" r="2.40"/>
<circle cx="874.96" cy="688.50" r="2.40"/>
<circle cx="888.69" cy="688.50" r="2.40"/>
<circle cx="902.42" cy="688.50" r="2.40"/>
<circle cx="916.16" cy="688.50" r="2.40"/>
<circle cx="929.89" cy="688.50" r="2.40"/>
<circle cx="943.62" cy="688.50" r="2.40"/>
<circle cx="957.35" cy="688.50" r="2.40"/>
<circle cx="971.08" cy="688.50" r="2.40"/>
<circle cx="984.81" cy="688.50" r="2.40"/>
<circle cx="998.54" cy="688.50" r="2.40"/>
<circle cx="1012.28" cy="688.50" r="2.40"/>
<circle cx="1026.01" cy="688.50" r="2.40"/>
<circle cx="1039.74" cy="688.50" r="2.40"/>
<circle cx="1053.47" cy="688.50" r="2.40"/>
<circle cx="1067.20" cy="688.50" r="2.40"/>
<circle cx="1080.93" cy="688.50" r="2.40"/>
<circle cx="1094.66" cy="688.50" r="2.40"/>
<circle cx="1108.39" cy="688.50" r="2.40"/>
<circle cx="1122.12" cy="688.50" r="2.40"/>
<circle cx="1135.86" cy="688.50" r="2.40"/>
<circle cx="1149.59" cy="688.50" r="2.40"/>
<circle cx="1163.32" cy="688.50" r="2.40"/>
<circle cx="1177.05" cy="688.50" r="2.40"/>
<circle cx="1190.78" cy="688.50" r="2.40"/>
<circle cx="1204.51" cy="688.50" r="2.40"/>
<circle cx="1218.24" cy="688.50" r="2.40"/>
<circle cx="1231.98" cy="688.50" r="2.40"/>
<circle cx="1245.71" cy="688.50" r="2.40"/>
<circle cx="1259.44" cy="688.50" r="2.40"/>
<circle cx="1273.17" cy="688.50" r="2.40"/>
<circle cx="1286.90" cy="688.50" r="2.40"/>
<polyline fill="none" stroke="#000" stroke-width="3.00" stroke-linejoin="miter" points="875.00,705.70 951.20,752.20 1027.40,806.00 1103.60,770.50 1179.80,753.50 1256.00,763.00"/>
<circle cx="875.00" cy="705.70" r="6.20"/>
<circle cx="951.20" cy="752.20" r="6.20"/>
<circle cx="1027.40" cy="806.00" r="6.20"/>
<circle cx="1103.60" cy="770.50" r="6.20"/>
<circle cx="1179.80" cy="753.50" r="6.20"/>
<circle cx="1256.00" cy="763.00" r="6.20"/>
<g font-family="Liberation Sans" font-weight="bold" font-size="44.50" transform="translate(-1.28 1071.40) scale(1 1.040)"><text x="0.00" y="0">E</text></g>
<g font-family="Liberation Sans" font-weight="bold" font-size="44.50" transform="translate(702.02 1070.30) scale(1 1.040)"><text x="0.00" y="0">F</text></g>
<g font-family="Liberation Sans" font-weight="bold" font-size="30.00" transform="translate(358.09 1062.20) scale(1 1.040)"><text x="0.00" y="0">K70</text></g>
<g font-family="Liberation Sans" font-weight="bold" font-size="30.00" transform="translate(1038.09 1062.20) scale(1 1.040)"><text x="0.00" y="0">K70</text></g>
<line x1="156.40" y1="1098.70" x2="156.40" y2="1406.40" stroke="#000" stroke-width="3.00"/>
<line x1="147.20" y1="1404.90" x2="615.80" y2="1404.90" stroke="#000" stroke-width="3.00"/>
<line x1="147.20" y1="1100.15" x2="156.40" y2="1100.15" stroke="#000" stroke-width="3.00"/>
<g font-family="Liberation Sans" font-weight="bold" font-size="23.00" transform="translate(106.07 1108.35) scale(1 1.040)"><path transform="translate(0.00 0) scale(0.01123 -0.01123)" d="M837 0L561 0L561 1002C470 921 330 855 151 809L151 1048C246 1075 340 1125 420 1188C500 1251 552 1326 580 1409L837 1409Z"/><text x="12.79" y="0">50</text></g>
<line x1="147.20" y1="1201.73" x2="156.40" y2="1201.73" stroke="#000" stroke-width="3.00"/>
<g font-family="Liberation Sans" font-weight="bold" font-size="23.00" transform="translate(106.07 1209.93) scale(1 1.040)"><path transform="translate(0.00 0) scale(0.01123 -0.01123)" d="M837 0L561 0L561 1002C470 921 330 855 151 809L151 1048C246 1075 340 1125 420 1188C500 1251 552 1326 580 1409L837 1409Z"/><text x="12.79" y="0">00</text></g>
<line x1="147.20" y1="1303.32" x2="156.40" y2="1303.32" stroke="#000" stroke-width="3.00"/>
<g font-family="Liberation Sans" font-weight="bold" font-size="23.00" transform="translate(118.86 1311.52) scale(1 1.040)"><text x="0.00" y="0">50</text></g>
<line x1="147.20" y1="1404.90" x2="156.40" y2="1404.90" stroke="#000" stroke-width="3.00"/>
<g font-family="Liberation Sans" font-weight="bold" font-size="23.00" transform="translate(131.65 1413.10) scale(1 1.040)"><text x="0.00" y="0">0</text></g>
<line x1="185.10" y1="1404.90" x2="185.10" y2="1413.80" stroke="#000" stroke-width="3.00"/>
<line x1="242.21" y1="1404.90" x2="242.21" y2="1413.80" stroke="#000" stroke-width="3.00"/>
<line x1="299.32" y1="1404.90" x2="299.32" y2="1413.80" stroke="#000" stroke-width="3.00"/>
<line x1="356.43" y1="1404.90" x2="356.43" y2="1413.80" stroke="#000" stroke-width="3.00"/>
<line x1="413.54" y1="1404.90" x2="413.54" y2="1413.80" stroke="#000" stroke-width="3.00"/>
<line x1="470.65" y1="1404.90" x2="470.65" y2="1413.80" stroke="#000" stroke-width="3.00"/>
<line x1="527.76" y1="1404.90" x2="527.76" y2="1413.80" stroke="#000" stroke-width="3.00"/>
<line x1="584.87" y1="1404.90" x2="584.87" y2="1413.80" stroke="#000" stroke-width="3.00"/>
<g font-family="Liberation Sans" font-weight="bold" font-size="23.00" transform="translate(78.46 1443.00) scale(1 1.040)"><text x="0.00" y="0">Cor</text></g>
<g font-family="Liberation Sans" font-weight="bold" font-size="23.00" transform="translate(124.75 1443.00)"><text x="0.00" y="0">(</text></g>
<g font-family="Liberation Serif" font-weight="normal" font-size="21.50" transform="translate(132.71 1443.00)"><text x="0.00" y="0">µ</text></g>
<g font-family="Liberation Sans" font-weight="bold" font-size="23.00" transform="translate(146.16 1443.00) scale(1 1.040)"><text x="0.00" y="0">M</text></g>
<g font-family="Liberation Sans" font-weight="bold" font-size="23.00" transform="translate(165.78 1443.00)"><text x="0.00" y="0">)</text></g>
<g font-family="Liberation Sans" font-weight="bold" font-size="23.00" transform="translate(179.02 1443.00) scale(1 1.040)"><text x="0.00" y="0">0</text></g>
<g font-family="Liberation Sans" font-weight="bold" font-size="23.00" transform="translate(210.46 1443.00) scale(1 1.040)"><text x="0.00" y="0">DMSO</text></g>
<g font-family="Liberation Sans" font-weight="bold" font-size="23.00" transform="translate(280.08 1443.00) scale(1 1.040)"><path transform="translate(0.00 0) scale(0.01123 -0.01123)" d="M837 0L561 0L561 1002C470 921 330 855 151 809L151 1048C246 1075 340 1125 420 1188C500 1251 552 1326 580 1409L837 1409Z"/><text x="12.79" y="0">2.5</text></g>
<g font-family="Liberation Sans" font-weight="bold" font-size="23.00" transform="translate(343.53 1443.00) scale(1 1.040)"><text x="0.00" y="0">25</text></g>
<g font-family="Liberation Sans" font-weight="bold" font-size="23.00" transform="translate(400.83 1443.00) scale(1 1.040)"><text x="0.00" y="0">50</text></g>
<g font-family="Liberation Sans" font-weight="bold" font-size="23.00" transform="translate(451.24 1443.00) scale(1 1.040)"><path transform="translate(0.00 0) scale(0.01123 -0.01123)" d="M837 0L561 0L561 1002C470 921 330 855 151 809L151 1048C246 1075 340 1125 420 1188C500 1251 552 1326 580 1409L837 1409Z"/><text x="12.79" y="0">00</text></g>
<g font-family="Liberation Sans" font-weight="bold" font-size="23.00" transform="translate(514.89 1443.00) scale(1 1.040)"><text x="0.00" y="0">200</text></g>
<g font-family="Liberation Sans" font-weight="bold" font-size="23.00" transform="translate(572.41 1443.00) scale(1 1.040)"><text x="0.00" y="0">400</text></g>
<g font-family="Liberation Sans" font-weight="bold" font-size="23.00" transform="translate(64.70 1475.00) scale(1 1.040)"><text x="0.00" y="0">cDDP</text></g>
<g font-family="Liberation Sans" font-weight="bold" font-size="23.00" transform="translate(125.45 1475.00)"><text x="0.00" y="0">(</text></g>
<g font-family="Liberation Serif" font-weight="normal" font-size="21.50" transform="translate(133.51 1475.00)"><text x="0.00" y="0">µ</text></g>
<g font-family="Liberation Sans" font-weight="bold" font-size="23.00" transform="translate(146.16 1475.00) scale(1 1.040)"><text x="0.00" y="0">M</text></g>
<g font-family="Liberation Sans" font-weight="bold" font-size="23.00" transform="translate(166.78 1475.00)"><text x="0.00" y="0">)</text></g>
<g font-family="Liberation Sans" font-weight="bold" font-size="23.00" transform="translate(179.62 1475.00) scale(1 1.040)"><text x="0.00" y="0">0</text></g>
<g font-family="Liberation Sans" font-weight="bold" font-size="23.00" transform="translate(281.88 1475.00) scale(1 1.040)"><text x="0.00" y="0">0.5</text></g>
<g font-family="Liberation Sans" font-weight="bold" font-size="23.00" transform="translate(351.85 1475.00) scale(1 1.040)"><path transform="translate(0.00 0) scale(0.01123 -0.01123)" d="M837 0L561 0L561 1002C470 921 330 855 151 809L151 1048C246 1075 340 1125 420 1188C500 1251 552 1326 580 1409L837 1409Z"/></g>
<g font-family="Liberation Sans" font-weight="bold" font-size="23.00" transform="translate(409.07 1475.00) scale(1 1.040)"><text x="0.00" y="0">2</text></g>
<g font-family="Liberation Sans" font-weight="bold" font-size="23.00" transform="translate(466.19 1475.00) scale(1 1.040)"><text x="0.00" y="0">4</text></g>
<g font-family="Liberation Sans" font-weight="bold" font-size="23.00" transform="translate(523.59 1475.00) scale(1 1.040)"><text x="0.00" y="0">8</text></g>
<g font-family="Liberation Sans" font-weight="bold" font-size="23.00" transform="translate(574.78 1475.00) scale(1 1.040)"><path transform="translate(0.00 0) scale(0.01123 -0.01123)" d="M837 0L561 0L561 1002C470 921 330 855 151 809L151 1048C246 1075 340 1125 420 1188C500 1251 552 1326 580 1409L837 1409Z"/><text x="12.79" y="0">6</text></g>
<g font-family="Liberation Sans" font-weight="bold" font-size="25.90" transform="translate(87.40 1348.39) rotate(-90)"><text x="0.00" y="0">Cell viability(%)</text></g>
<g font-family="Liberation Sans" font-weight="bold" font-size="25.20" transform="translate(267.04 1521.40)"><text x="0.00" y="0">Drug Concentration</text></g>
<circle cx="168.70" cy="1304.30" r="2.40"/>
<circle cx="182.44" cy="1304.30" r="2.40"/>
<circle cx="196.17" cy="1304.30" r="2.40"/>
<circle cx="209.91" cy="1304.30" r="2.40"/>
<circle cx="223.65" cy="1304.30" r="2.40"/>
<circle cx="237.39" cy="1304.30" r="2.40"/>
<circle cx="251.12" cy="1304.30" r="2.40"/>
<circle cx="264.86" cy="1304.30" r="2.40"/>
<circle cx="278.60" cy="1304.30" r="2.40"/>
<circle cx="292.34" cy="1304.30" r="2.40"/>
<circle cx="306.07" cy="1304.30" r="2.40"/>
<circle cx="319.81" cy="1304.30" r="2.40"/>
<circle cx="333.55" cy="1304.30" r="2.40"/>
<circle cx="347.29" cy="1304.30" r="2.40"/>
<circle cx="361.02" cy="1304.30" r="2.40"/>
<circle cx="374.76" cy="1304.30" r="2.40"/>
<circle cx="388.50" cy="1304.30" r="2.40"/>
<circle cx="402.24" cy="1304.30" r="2.40"/>
<circle cx="415.97" cy="1304.30" r="2.40"/>
<circle cx="429.71" cy="1304.30" r="2.40"/>
<circle cx="443.45" cy="1304.30" r="2.40"/>
<circle cx="457.19" cy="1304.30" r="2.40"/>
<circle cx="470.92" cy="1304.30" r="2.40"/>
<circle cx="484.66" cy="1304.30" r="2.40"/>
<circle cx="498.40" cy="1304.30" r="2.40"/>
<circle cx="512.14" cy="1304.30" r="2.40"/>
<circle cx="525.88" cy="1304.30" r="2.40"/>
<circle cx="539.61" cy="1304.30" r="2.40"/>
<circle cx="553.35" cy="1304.30" r="2.40"/>
<circle cx="567.09" cy="1304.30" r="2.40"/>
<circle cx="580.82" cy="1304.30" r="2.40"/>
<circle cx="594.56" cy="1304.30" r="2.40"/>
<circle cx="608.30" cy="1304.30" r="2.40"/>
<line x1="198.70" y1="1106.50" x2="231.30" y2="1106.50" stroke="#000" stroke-width="3.20"/>
<rect x="208.90" y="1100.30" width="12.40" height="12.40"/>
<g font-family="Liberation Sans" font-weight="bold" font-size="25.60" transform="translate(249.15 1113.00) scale(1 1.030)"><text x="0.00" y="0">Cor</text></g>
<g font-family="Liberation Sans" font-weight="bold" font-size="25.60" transform="translate(369.61 1113.00) scale(1 1.030)"><text x="0.00" y="0">48H IC</text></g>
<g font-family="Liberation Sans" font-weight="bold" font-size="18.00" transform="translate(448.65 1118.20) scale(1 1.040)"><text x="0.00" y="0">50</text></g>
<g font-family="Liberation Sans" font-weight="bold" font-size="25.60" transform="translate(475.66 1113.00) scale(1 1.030)"><text x="0.00" y="0">69.27</text></g>
<line x1="197.00" y1="1144.70" x2="230.00" y2="1144.70" stroke="#000" stroke-width="3.20"/>
<circle cx="213.50" cy="1144.70" r="6.20"/>
<g font-family="Liberation Sans" font-weight="bold" font-size="25.20" transform="translate(247.82 1151.30) scale(1 1.030)"><text x="0.00" y="0">cDDP</text></g>
<g font-family="Liberation Sans" font-weight="bold" font-size="25.60" transform="translate(370.61 1151.30) scale(1 1.030)"><text x="0.00" y="0">48H IC</text></g>
<g font-family="Liberation Sans" font-weight="bold" font-size="18.00" transform="translate(449.25 1156.50) scale(1 1.040)"><text x="0.00" y="0">50</text></g>
<g font-family="Liberation Sans" font-weight="bold" font-size="25.60" transform="translate(476.31 1151.30) scale(1 1.030)"><text x="0.00" y="0">2.48</text></g>
<line x1="197.00" y1="1181.50" x2="230.00" y2="1181.50" stroke="#000" stroke-width="3.20"/>
<polygon points="213.50,1175.10 219.95,1187.90 207.05,1187.90"/>
<g font-family="Liberation Sans" font-weight="bold" font-size="25.00" transform="translate(247.77 1187.50) scale(1 1.030)"><text x="0.00" y="0">Cor+DDP</text></g>
<g font-family="Liberation Sans" font-weight="bold" font-size="25.60" transform="translate(372.21 1187.50) scale(1 1.030)"><text x="0.00" y="0">48H IC</text></g>
<g font-family="Liberation Sans" font-weight="bold" font-size="18.00" transform="translate(450.21 1192.70) scale(1 1.040)"><text x="0.00" y="0">50</text></g>
<g font-family="Liberation Sans" font-weight="bold" font-size="25.60" transform="translate(477.27 1187.50) scale(1 1.030)"><text x="0.00" y="0">27.02+</text><path transform="translate(79.01 0) scale(0.01250 -0.01250)" d="M837 0L561 0L561 1002C470 921 330 855 151 809L151 1048C246 1075 340 1125 420 1188C500 1251 552 1326 580 1409L837 1409Z"/><text x="93.25" y="0">.08</text></g>
<polyline fill="none" stroke="#000" stroke-width="3.00" stroke-linejoin="miter" points="185.10,1201.90 242.21,1208.50 299.32,1222.40 356.43,1243.50 413.54,1283.70 470.65,1323.60 527.76,1344.10 584.87,1356.50"/>
<polyline fill="none" stroke="#000" stroke-width="3.00" stroke-linejoin="miter" points="185.10,1201.90 299.32,1224.70 356.43,1250.50 413.54,1292.60 470.65,1335.20 527.76,1358.60 584.87,1372.40"/>
<polyline fill="none" stroke="#000" stroke-width="3.00" stroke-linejoin="miter" points="185.10,1201.90 242.21,1211.00 299.32,1255.40 356.43,1298.00 413.54,1340.80 470.65,1362.50 527.76,1376.30 584.87,1389.30"/>
<polygon points="185.10,1195.50 191.55,1208.30 178.65,1208.30"/>
<polygon points="242.21,1204.60 248.66,1217.40 235.76,1217.40"/>
<polygon points="299.32,1249.00 305.77,1261.80 292.87,1261.80"/>
<polygon points="356.43,1291.60 362.88,1304.40 349.98,1304.40"/>
<polygon points="413.54,1334.40 419.99,1347.20 407.09,1347.20"/>
<polygon points="470.65,1356.10 477.10,1368.90 464.20,1368.90"/>
<polygon points="527.76,1369.90 534.21,1382.70 521.31,1382.70"/>
<polygon points="584.87,1382.90 591.32,1395.70 578.42,1395.70"/>
<circle cx="185.10" cy="1201.90" r="6.20"/>
<circle cx="299.32" cy="1224.70" r="6.20"/>
<circle cx="356.43" cy="1250.50" r="6.20"/>
<circle cx="413.54" cy="1292.60" r="6.20"/>
<circle cx="470.65" cy="1335.20" r="6.20"/>
<circle cx="527.76" cy="1358.60" r="6.20"/>
<circle cx="584.87" cy="1372.40" r="6.20"/>
<rect x="178.90" y="1195.70" width="12.40" height="12.40"/>
<rect x="236.01" y="1202.30" width="12.40" height="12.40"/>
<rect x="293.12" y="1216.20" width="12.40" height="12.40"/>
<rect x="350.23" y="1237.30" width="12.40" height="12.40"/>
<rect x="407.34" y="1277.50" width="12.40" height="12.40"/>
<rect x="464.45" y="1317.40" width="12.40" height="12.40"/>
<rect x="521.56" y="1337.90" width="12.40" height="12.40"/>
<rect x="578.67" y="1350.30" width="12.40" height="12.40"/>
<line x1="836.80" y1="1098.60" x2="836.80" y2="1406.90" stroke="#000" stroke-width="3.00"/>
<line x1="827.80" y1="1405.40" x2="1300.00" y2="1405.40" stroke="#000" stroke-width="3.00"/>
<line x1="827.80" y1="1100.10" x2="836.80" y2="1100.10" stroke="#000" stroke-width="3.00"/>
<g font-family="Liberation Sans" font-weight="bold" font-size="23.00" transform="translate(792.67 1108.30) scale(1 1.040)"><path transform="translate(0.00 0) scale(0.01123 -0.01123)" d="M837 0L561 0L561 1002C470 921 330 855 151 809L151 1048C246 1075 340 1125 420 1188C500 1251 552 1326 580 1409L837 1409Z"/><text x="12.79" y="0">.5</text></g>
<line x1="827.80" y1="1201.87" x2="836.80" y2="1201.87" stroke="#000" stroke-width="3.00"/>
<g font-family="Liberation Sans" font-weight="bold" font-size="23.00" transform="translate(792.97 1210.07) scale(1 1.040)"><path transform="translate(0.00 0) scale(0.01123 -0.01123)" d="M837 0L561 0L561 1002C470 921 330 855 151 809L151 1048C246 1075 340 1125 420 1188C500 1251 552 1326 580 1409L837 1409Z"/><text x="12.79" y="0">.0</text></g>
<line x1="827.80" y1="1303.63" x2="836.80" y2="1303.63" stroke="#000" stroke-width="3.00"/>
<g font-family="Liberation Sans" font-weight="bold" font-size="23.00" transform="translate(792.67 1311.83) scale(1 1.040)"><text x="0.00" y="0">0.5</text></g>
<line x1="827.80" y1="1405.40" x2="836.80" y2="1405.40" stroke="#000" stroke-width="3.00"/>
<g font-family="Liberation Sans" font-weight="bold" font-size="23.00" transform="translate(792.97 1413.60) scale(1 1.040)"><text x="0.00" y="0">0.0</text></g>
<line x1="875.00" y1="1405.40" x2="875.00" y2="1414.20" stroke="#000" stroke-width="3.00"/>
<g font-family="Liberation Sans" font-weight="bold" font-size="23.40" transform="translate(883.30 1434.80) rotate(-45) scale(1 1.040)"><text x="-84.59" y="0">0.24200</text></g>
<line x1="951.20" y1="1405.40" x2="951.20" y2="1414.20" stroke="#000" stroke-width="3.00"/>
<g font-family="Liberation Sans" font-weight="bold" font-size="23.40" transform="translate(959.50 1434.80) rotate(-45) scale(1 1.040)"><text x="-84.59" y="0">0.450</text><path transform="translate(-26.03 0) scale(0.01143 -0.01143)" d="M837 0L561 0L561 1002C470 921 330 855 151 809L151 1048C246 1075 340 1125 420 1188C500 1251 552 1326 580 1409L837 1409Z"/><text x="-13.01" y="0">0</text></g>
<line x1="1027.40" y1="1405.40" x2="1027.40" y2="1414.20" stroke="#000" stroke-width="3.00"/>
<g font-family="Liberation Sans" font-weight="bold" font-size="23.40" transform="translate(1035.70 1434.80) rotate(-45) scale(1 1.040)"><text x="-84.59" y="0">0.64</text><path transform="translate(-39.04 0) scale(0.01143 -0.01143)" d="M837 0L561 0L561 1002C470 921 330 855 151 809L151 1048C246 1075 340 1125 420 1188C500 1251 552 1326 580 1409L837 1409Z"/><text x="-26.03" y="0">00</text></g>
<line x1="1103.60" y1="1405.40" x2="1103.60" y2="1414.20" stroke="#000" stroke-width="3.00"/>
<g font-family="Liberation Sans" font-weight="bold" font-size="23.40" transform="translate(1111.90 1434.80) rotate(-45) scale(1 1.040)"><text x="-84.59" y="0">0.75000</text></g>
<line x1="1179.80" y1="1405.40" x2="1179.80" y2="1414.20" stroke="#000" stroke-width="3.00"/>
<g font-family="Liberation Sans" font-weight="bold" font-size="23.40" transform="translate(1188.10 1434.80) rotate(-45) scale(1 1.040)"><text x="-84.59" y="0">0.83700</text></g>
<line x1="1256.00" y1="1405.40" x2="1256.00" y2="1414.20" stroke="#000" stroke-width="3.00"/>
<g font-family="Liberation Sans" font-weight="bold" font-size="23.40" transform="translate(1264.30 1434.80) rotate(-45) scale(1 1.040)"><text x="-84.59" y="0">0.92900</text></g>
<g font-family="Liberation Sans" font-weight="bold" font-size="24.90" transform="translate(778.20 1362.97) rotate(-90)"><text x="0.00" y="0">Combination index</text></g>
<g font-family="Liberation Sans" font-weight="bold" font-size="25.60" transform="translate(962.66 1531.00)"><text x="0.00" y="0">Fraction affected</text></g>
<circle cx="847.50" cy="1202.10" r="2.40"/>
<circle cx="861.23" cy="1202.10" r="2.40"/>
<circle cx="874.96" cy="1202.10" r="2.40"/>
<circle cx="888.69" cy="1202.10" r="2.40"/>
<circle cx="902.42" cy="1202.10" r="2.40"/>
<circle cx="916.16" cy="1202.10" r="2.40"/>
<circle cx="929.89" cy="1202.10" r="2.40"/>
<circle cx="943.62" cy="1202.10" r="2.40"/>
<circle cx="957.35" cy="1202.10" r="2.40"/>
<circle cx="971.08" cy="1202.10" r="2.40"/>
<circle cx="984.81" cy="1202.10" r="2.40"/>
<circle cx="998.54" cy="1202.10" r="2.40"/>
<circle cx="1012.28" cy="1202.10" r="2.40"/>
<circle cx="1026.01" cy="1202.10" r="2.40"/>
<circle cx="1039.74" cy="1202.10" r="2.40"/>
<circle cx="1053.47" cy="1202.10" r="2.40"/>
<circle cx="1067.20" cy="1202.10" r="2.40"/>
<circle cx="1080.93" cy="1202.10" r="2.40"/>
<circle cx="1094.66" cy="1202.10" r="2.40"/>
<circle cx="1108.39" cy="1202.10" r="2.40"/>
<circle cx="1122.12" cy="1202.10" r="2.40"/>
<circle cx="1135.86" cy="1202.10" r="2.40"/>
<circle cx="1149.59" cy="1202.10" r="2.40"/>
<circle cx="1163.32" cy="1202.10" r="2.40"/>
<circle cx="1177.05" cy="1202.10" r="2.40"/>
<circle cx="1190.78" cy="1202.10" r="2.40"/>
<circle cx="1204.51" cy="1202.10" r="2.40"/>
<circle cx="1218.24" cy="1202.10" r="2.40"/>
<circle cx="1231.98" cy="1202.10" r="2.40"/>
<circle cx="1245.71" cy="1202.10" r="2.40"/>
<circle cx="1259.44" cy="1202.10" r="2.40"/>
<circle cx="1273.17" cy="1202.10" r="2.40"/>
<circle cx="1286.90" cy="1202.10" r="2.40"/>
<polyline fill="none" stroke="#000" stroke-width="3.00" stroke-linejoin="miter" points="875.00,1218.00 951.20,1255.00 1027.40,1269.00 1103.60,1305.00 1179.80,1345.40 1256.00,1333.50"/>
<circle cx="875.00" cy="1218.00" r="6.20"/>
<circle cx="951.20" cy="1255.00" r="6.20"/>
<circle cx="1027.40" cy="1269.00" r="6.20"/>
<circle cx="1103.60" cy="1305.00" r="6.20"/>
<circle cx="1179.80" cy="1345.40" r="6.20"/>
<circle cx="1256.00" cy="1333.50" r="6.20"/>
<g font-family="Liberation Sans" font-weight="bold" font-size="44.50" transform="translate(-0.63 1593.00) scale(1 1.040)"><text x="0.00" y="0">G</text></g>
<g font-family="Liberation Sans" font-weight="bold" font-size="44.50" transform="translate(702.42 1592.30) scale(1 1.040)"><text x="0.00" y="0">H</text></g>
<g font-family="Liberation Sans" font-weight="bold" font-size="30.00" transform="translate(328.86 1584.90) scale(1 1.040)"><text x="0.00" y="0">ECA</text><path transform="translate(63.34 0) scale(0.01465 -0.01465)" d="M837 0L561 0L561 1002C470 921 330 855 151 809L151 1048C246 1075 340 1125 420 1188C500 1251 552 1326 580 1409L837 1409Z"/><text x="80.02" y="0">09</text></g>
<g font-family="Liberation Sans" font-weight="bold" font-size="30.00" transform="translate(1008.86 1584.90) scale(1 1.040)"><text x="0.00" y="0">ECA</text><path transform="translate(63.34 0) scale(0.01465 -0.01465)" d="M837 0L561 0L561 1002C470 921 330 855 151 809L151 1048C246 1075 340 1125 420 1188C500 1251 552 1326 580 1409L837 1409Z"/><text x="80.02" y="0">09</text></g>
<line x1="156.40" y1="1621.40" x2="156.40" y2="1929.10" stroke="#000" stroke-width="3.00"/>
<line x1="147.20" y1="1927.60" x2="615.80" y2="1927.60" stroke="#000" stroke-width="3.00"/>
<line x1="147.20" y1="1622.85" x2="156.40" y2="1622.85" stroke="#000" stroke-width="3.00"/>
<g font-family="Liberation Sans" font-weight="bold" font-size="23.00" transform="translate(106.07 1631.05) scale(1 1.040)"><path transform="translate(0.00 0) scale(0.01123 -0.01123)" d="M837 0L561 0L561 1002C470 921 330 855 151 809L151 1048C246 1075 340 1125 420 1188C500 1251 552 1326 580 1409L837 1409Z"/><text x="12.79" y="0">50</text></g>
<line x1="147.20" y1="1724.43" x2="156.40" y2="1724.43" stroke="#000" stroke-width="3.00"/>
<g font-family="Liberation Sans" font-weight="bold" font-size="23.00" transform="translate(106.07 1732.63) scale(1 1.040)"><path transform="translate(0.00 0) scale(0.01123 -0.01123)" d="M837 0L561 0L561 1002C470 921 330 855 151 809L151 1048C246 1075 340 1125 420 1188C500 1251 552 1326 580 1409L837 1409Z"/><text x="12.79" y="0">00</text></g>
<line x1="147.20" y1="1826.02" x2="156.40" y2="1826.02" stroke="#000" stroke-width="3.00"/>
<g font-family="Liberation Sans" font-weight="bold" font-size="23.00" transform="translate(118.86 1834.22) scale(1 1.040)"><text x="0.00" y="0">50</text></g>
<line x1="147.20" y1="1927.60" x2="156.40" y2="1927.60" stroke="#000" stroke-width="3.00"/>
<g font-family="Liberation Sans" font-weight="bold" font-size="23.00" transform="translate(131.65 1935.80) scale(1 1.040)"><text x="0.00" y="0">0</text></g>
<line x1="185.10" y1="1927.60" x2="185.10" y2="1936.50" stroke="#000" stroke-width="3.00"/>
<line x1="242.21" y1="1927.60" x2="242.21" y2="1936.50" stroke="#000" stroke-width="3.00"/>
<line x1="299.32" y1="1927.60" x2="299.32" y2="1936.50" stroke="#000" stroke-width="3.00"/>
<line x1="356.43" y1="1927.60" x2="356.43" y2="1936.50" stroke="#000" stroke-width="3.00"/>
<line x1="413.54" y1="1927.60" x2="413.54" y2="1936.50" stroke="#000" stroke-width="3.00"/>
<line x1="470.65" y1="1927.60" x2="470.65" y2="1936.50" stroke="#000" stroke-width="3.00"/>
<line x1="527.76" y1="1927.60" x2="527.76" y2="1936.50" stroke="#000" stroke-width="3.00"/>
<line x1="584.87" y1="1927.60" x2="584.87" y2="1936.50" stroke="#000" stroke-width="3.00"/>
<g font-family="Liberation Sans" font-weight="bold" font-size="23.00" transform="translate(78.46 1965.70) scale(1 1.040)"><text x="0.00" y="0">Cor</text></g>
<g font-family="Liberation Sans" font-weight="bold" font-size="23.00" transform="translate(124.75 1965.70)"><text x="0.00" y="0">(</text></g>
<g font-family="Liberation Serif" font-weight="normal" font-size="21.50" transform="translate(132.71 1965.70)"><text x="0.00" y="0">µ</text></g>
<g font-family="Liberation Sans" font-weight="bold" font-size="23.00" transform="translate(146.16 1965.70) scale(1 1.040)"><text x="0.00" y="0">M</text></g>
<g font-family="Liberation Sans" font-weight="bold" font-size="23.00" transform="translate(165.78 1965.70)"><text x="0.00" y="0">)</text></g>
<g font-family="Liberation Sans" font-weight="bold" font-size="23.00" transform="translate(179.02 1965.70) scale(1 1.040)"><text x="0.00" y="0">0</text></g>
<g font-family="Liberation Sans" font-weight="bold" font-size="23.00" transform="translate(210.46 1965.70) scale(1 1.040)"><text x="0.00" y="0">DMSO</text></g>
<g font-family="Liberation Sans" font-weight="bold" font-size="23.00" transform="translate(280.08 1965.70) scale(1 1.040)"><path transform="translate(0.00 0) scale(0.01123 -0.01123)" d="M837 0L561 0L561 1002C470 921 330 855 151 809L151 1048C246 1075 340 1125 420 1188C500 1251 552 1326 580 1409L837 1409Z"/><text x="12.79" y="0">2.5</text></g>
<g font-family="Liberation Sans" font-weight="bold" font-size="23.00" transform="translate(343.53 1965.70) scale(1 1.040)"><text x="0.00" y="0">25</text></g>
<g font-family="Liberation Sans" font-weight="bold" font-size="23.00" transform="translate(400.83 1965.70) scale(1 1.040)"><text x="0.00" y="0">50</text></g>
<g font-family="Liberation Sans" font-weight="bold" font-size="23.00" transform="translate(451.24 1965.70) scale(1 1.040)"><path transform="translate(0.00 0) scale(0.01123 -0.01123)" d="M837 0L561 0L561 1002C470 921 330 855 151 809L151 1048C246 1075 340 1125 420 1188C500 1251 552 1326 580 1409L837 1409Z"/><text x="12.79" y="0">00</text></g>
<g font-family="Liberation Sans" font-weight="bold" font-size="23.00" transform="translate(514.89 1965.70) scale(1 1.040)"><text x="0.00" y="0">200</text></g>
<g font-family="Liberation Sans" font-weight="bold" font-size="23.00" transform="translate(572.41 1965.70) scale(1 1.040)"><text x="0.00" y="0">400</text></g>
<g font-family="Liberation Sans" font-weight="bold" font-size="23.00" transform="translate(64.70 1997.70) scale(1 1.040)"><text x="0.00" y="0">cDDP</text></g>
<g font-family="Liberation Sans" font-weight="bold" font-size="23.00" transform="translate(125.45 1997.70)"><text x="0.00" y="0">(</text></g>
<g font-family="Liberation Serif" font-weight="normal" font-size="21.50" transform="translate(133.51 1997.70)"><text x="0.00" y="0">µ</text></g>
<g font-family="Liberation Sans" font-weight="bold" font-size="23.00" transform="translate(146.16 1997.70) scale(1 1.040)"><text x="0.00" y="0">M</text></g>
<g font-family="Liberation Sans" font-weight="bold" font-size="23.00" transform="translate(166.78 1997.70)"><text x="0.00" y="0">)</text></g>
<g font-family="Liberation Sans" font-weight="bold" font-size="23.00" transform="translate(179.62 1997.70) scale(1 1.040)"><text x="0.00" y="0">0</text></g>
<g font-family="Liberation Sans" font-weight="bold" font-size="23.00" transform="translate(281.88 1997.70) scale(1 1.040)"><text x="0.00" y="0">0.5</text></g>
<g font-family="Liberation Sans" font-weight="bold" font-size="23.00" transform="translate(351.85 1997.70) scale(1 1.040)"><path transform="translate(0.00 0) scale(0.01123 -0.01123)" d="M837 0L561 0L561 1002C470 921 330 855 151 809L151 1048C246 1075 340 1125 420 1188C500 1251 552 1326 580 1409L837 1409Z"/></g>
<g font-family="Liberation Sans" font-weight="bold" font-size="23.00" transform="translate(409.07 1997.70) scale(1 1.040)"><text x="0.00" y="0">2</text></g>
<g font-family="Liberation Sans" font-weight="bold" font-size="23.00" transform="translate(466.19 1997.70) scale(1 1.040)"><text x="0.00" y="0">4</text></g>
<g font-family="Liberation Sans" font-weight="bold" font-size="23.00" transform="translate(523.59 1997.70) scale(1 1.040)"><text x="0.00" y="0">8</text></g>
<g font-family="Liberation Sans" font-weight="bold" font-size="23.00" transform="translate(574.78 1997.70) scale(1 1.040)"><path transform="translate(0.00 0) scale(0.01123 -0.01123)" d="M837 0L561 0L561 1002C470 921 330 855 151 809L151 1048C246 1075 340 1125 420 1188C500 1251 552 1326 580 1409L837 1409Z"/><text x="12.79" y="0">6</text></g>
<g font-family="Liberation Sans" font-weight="bold" font-size="25.90" transform="translate(87.40 1871.09) rotate(-90)"><text x="0.00" y="0">Cell viability(%)</text></g>
<g font-family="Liberation Sans" font-weight="bold" font-size="25.20" transform="translate(267.04 2044.10)"><text x="0.00" y="0">Drug Concentration</text></g>
<circle cx="168.70" cy="1827.00" r="2.40"/>
<circle cx="182.44" cy="1827.00" r="2.40"/>
<circle cx="196.17" cy="1827.00" r="2.40"/>
<circle cx="209.91" cy="1827.00" r="2.40"/>
<circle cx="223.65" cy="1827.00" r="2.40"/>
<circle cx="237.39" cy="1827.00" r="2.40"/>
<circle cx="251.12" cy="1827.00" r="2.40"/>
<circle cx="264.86" cy="1827.00" r="2.40"/>
<circle cx="278.60" cy="1827.00" r="2.40"/>
<circle cx="292.34" cy="1827.00" r="2.40"/>
<circle cx="306.07" cy="1827.00" r="2.40"/>
<circle cx="319.81" cy="1827.00" r="2.40"/>
<circle cx="333.55" cy="1827.00" r="2.40"/>
<circle cx="347.29" cy="1827.00" r="2.40"/>
<circle cx="361.02" cy="1827.00" r="2.40"/>
<circle cx="374.76" cy="1827.00" r="2.40"/>
<circle cx="388.50" cy="1827.00" r="2.40"/>
<circle cx="402.24" cy="1827.00" r="2.40"/>
<circle cx="415.97" cy="1827.00" r="2.40"/>
<circle cx="429.71" cy="1827.00" r="2.40"/>
<circle cx="443.45" cy="1827.00" r="2.40"/>
<circle cx="457.19" cy="1827.00" r="2.40"/>
<circle cx="470.92" cy="1827.00" r="2.40"/>
<circle cx="484.66" cy="1827.00" r="2.40"/>
<circle cx="498.40" cy="1827.00" r="2.40"/>
<circle cx="512.14" cy="1827.00" r="2.40"/>
<circle cx="525.88" cy="1827.00" r="2.40"/>
<circle cx="539.61" cy="1827.00" r="2.40"/>
<circle cx="553.35" cy="1827.00" r="2.40"/>
<circle cx="567.09" cy="1827.00" r="2.40"/>
<circle cx="580.82" cy="1827.00" r="2.40"/>
<circle cx="594.56" cy="1827.00" r="2.40"/>
<circle cx="608.30" cy="1827.00" r="2.40"/>
<line x1="198.70" y1="1629.20" x2="231.30" y2="1629.20" stroke="#000" stroke-width="3.20"/>
<rect x="208.90" y="1623.00" width="12.40" height="12.40"/>
<g font-family="Liberation Sans" font-weight="bold" font-size="25.60" transform="translate(249.15 1635.70) scale(1 1.030)"><text x="0.00" y="0">Cor</text></g>
<g font-family="Liberation Sans" font-weight="bold" font-size="25.60" transform="translate(369.61 1635.70) scale(1 1.030)"><text x="0.00" y="0">48H IC</text></g>
<g font-family="Liberation Sans" font-weight="bold" font-size="18.00" transform="translate(448.65 1640.90) scale(1 1.040)"><text x="0.00" y="0">50</text></g>
<g font-family="Liberation Sans" font-weight="bold" font-size="25.60" transform="translate(475.50 1635.70) scale(1 1.030)"><text x="0.00" y="0">73.82</text></g>
<line x1="197.00" y1="1667.40" x2="230.00" y2="1667.40" stroke="#000" stroke-width="3.20"/>
<circle cx="213.50" cy="1667.40" r="6.20"/>
<g font-family="Liberation Sans" font-weight="bold" font-size="25.20" transform="translate(247.82 1674.00) scale(1 1.030)"><text x="0.00" y="0">cDDP</text></g>
<g font-family="Liberation Sans" font-weight="bold" font-size="25.60" transform="translate(370.61 1674.00) scale(1 1.030)"><text x="0.00" y="0">48H IC</text></g>
<g font-family="Liberation Sans" font-weight="bold" font-size="18.00" transform="translate(449.25 1679.20) scale(1 1.040)"><text x="0.00" y="0">50</text></g>
<g font-family="Liberation Sans" font-weight="bold" font-size="25.60" transform="translate(476.31 1674.00) scale(1 1.030)"><text x="0.00" y="0">2.46</text></g>
<line x1="197.00" y1="1704.20" x2="230.00" y2="1704.20" stroke="#000" stroke-width="3.20"/>
<polygon points="213.50,1697.80 219.95,1710.60 207.05,1710.60"/>
<g font-family="Liberation Sans" font-weight="bold" font-size="25.00" transform="translate(247.77 1710.20) scale(1 1.030)"><text x="0.00" y="0">Cor+DDP</text></g>
<g font-family="Liberation Sans" font-weight="bold" font-size="25.60" transform="translate(372.21 1710.20) scale(1 1.030)"><text x="0.00" y="0">48H IC</text></g>
<g font-family="Liberation Sans" font-weight="bold" font-size="18.00" transform="translate(450.21 1715.40) scale(1 1.040)"><text x="0.00" y="0">50</text></g>
<g font-family="Liberation Sans" font-weight="bold" font-size="25.60" transform="translate(477.27 1710.20) scale(1 1.030)"><text x="0.00" y="0">24.84+0.97</text></g>
<polyline fill="none" stroke="#000" stroke-width="3.00" stroke-linejoin="miter" points="185.10,1724.50 242.21,1732.20 299.32,1746.10 356.43,1774.00 413.54,1809.90 470.65,1835.10 527.76,1854.30 584.87,1885.00"/>
<polyline fill="none" stroke="#000" stroke-width="3.00" stroke-linejoin="miter" points="185.10,1724.50 299.32,1756.80 356.43,1779.90 413.54,1817.90 470.65,1858.70 527.76,1875.90 584.87,1898.70"/>
<polyline fill="none" stroke="#000" stroke-width="3.00" stroke-linejoin="miter" points="185.10,1724.50 242.21,1732.00 299.32,1792.50 356.43,1826.50 413.54,1876.00 470.65,1913.50 527.76,1925.70 584.87,1925.70"/>
<polygon points="185.10,1718.10 191.55,1730.90 178.65,1730.90"/>
<polygon points="242.21,1725.60 248.66,1738.40 235.76,1738.40"/>
<polygon points="299.32,1786.10 305.77,1798.90 292.87,1798.90"/>
<polygon points="356.43,1820.10 362.88,1832.90 349.98,1832.90"/>
<polygon points="413.54,1869.60 419.99,1882.40 407.09,1882.40"/>
<polygon points="470.65,1907.10 477.10,1919.90 464.20,1919.90"/>
<polygon points="527.76,1919.30 534.21,1932.10 521.31,1932.10"/>
<polygon points="584.87,1919.30 591.32,1932.10 578.42,1932.10"/>
<circle cx="185.10" cy="1724.50" r="6.20"/>
<circle cx="299.32" cy="1756.80" r="6.20"/>
<circle cx="356.43" cy="1779.90" r="6.20"/>
<circle cx="413.54" cy="1817.90" r="6.20"/>
<circle cx="470.65" cy="1858.70" r="6.20"/>
<circle cx="527.76" cy="1875.90" r="6.20"/>
<circle cx="584.87" cy="1898.70" r="6.20"/>
<rect x="178.90" y="1718.30" width="12.40" height="12.40"/>
<rect x="236.01" y="1726.00" width="12.40" height="12.40"/>
<rect x="293.12" y="1739.90" width="12.40" height="12.40"/>
<rect x="350.23" y="1767.80" width="12.40" height="12.40"/>
<rect x="407.34" y="1803.70" width="12.40" height="12.40"/>
<rect x="464.45" y="1828.90" width="12.40" height="12.40"/>
<rect x="521.56" y="1848.10" width="12.40" height="12.40"/>
<rect x="578.67" y="1878.80" width="12.40" height="12.40"/>
<line x1="836.80" y1="1621.30" x2="836.80" y2="1929.60" stroke="#000" stroke-width="3.00"/>
<line x1="827.80" y1="1928.10" x2="1300.00" y2="1928.10" stroke="#000" stroke-width="3.00"/>
<line x1="827.80" y1="1622.80" x2="836.80" y2="1622.80" stroke="#000" stroke-width="3.00"/>
<g font-family="Liberation Sans" font-weight="bold" font-size="23.00" transform="translate(792.67 1631.00) scale(1 1.040)"><path transform="translate(0.00 0) scale(0.01123 -0.01123)" d="M837 0L561 0L561 1002C470 921 330 855 151 809L151 1048C246 1075 340 1125 420 1188C500 1251 552 1326 580 1409L837 1409Z"/><text x="12.79" y="0">.5</text></g>
<line x1="827.80" y1="1724.57" x2="836.80" y2="1724.57" stroke="#000" stroke-width="3.00"/>
<g font-family="Liberation Sans" font-weight="bold" font-size="23.00" transform="translate(792.97 1732.77) scale(1 1.040)"><path transform="translate(0.00 0) scale(0.01123 -0.01123)" d="M837 0L561 0L561 1002C470 921 330 855 151 809L151 1048C246 1075 340 1125 420 1188C500 1251 552 1326 580 1409L837 1409Z"/><text x="12.79" y="0">.0</text></g>
<line x1="827.80" y1="1826.33" x2="836.80" y2="1826.33" stroke="#000" stroke-width="3.00"/>
<g font-family="Liberation Sans" font-weight="bold" font-size="23.00" transform="translate(792.67 1834.53) scale(1 1.040)"><text x="0.00" y="0">0.5</text></g>
<line x1="827.80" y1="1928.10" x2="836.80" y2="1928.10" stroke="#000" stroke-width="3.00"/>
<g font-family="Liberation Sans" font-weight="bold" font-size="23.00" transform="translate(792.97 1936.30) scale(1 1.040)"><text x="0.00" y="0">0.0</text></g>
<line x1="875.00" y1="1928.10" x2="875.00" y2="1936.90" stroke="#000" stroke-width="3.00"/>
<g font-family="Liberation Sans" font-weight="bold" font-size="23.40" transform="translate(883.30 1957.50) rotate(-45) scale(1 1.040)"><text x="-84.59" y="0">0.34300</text></g>
<line x1="951.20" y1="1928.10" x2="951.20" y2="1936.90" stroke="#000" stroke-width="3.00"/>
<g font-family="Liberation Sans" font-weight="bold" font-size="23.40" transform="translate(959.50 1957.50) rotate(-45) scale(1 1.040)"><text x="-84.59" y="0">0.42800</text></g>
<line x1="1027.40" y1="1928.10" x2="1027.40" y2="1936.90" stroke="#000" stroke-width="3.00"/>
<g font-family="Liberation Sans" font-weight="bold" font-size="23.40" transform="translate(1035.70 1957.50) rotate(-45) scale(1 1.040)"><text x="-84.59" y="0">0.75400</text></g>
<line x1="1103.60" y1="1928.10" x2="1103.60" y2="1936.90" stroke="#000" stroke-width="3.00"/>
<g font-family="Liberation Sans" font-weight="bold" font-size="23.40" transform="translate(1111.90 1957.50) rotate(-45) scale(1 1.040)"><text x="-84.59" y="0">0.93900</text></g>
<line x1="1179.80" y1="1928.10" x2="1179.80" y2="1936.90" stroke="#000" stroke-width="3.00"/>
<g font-family="Liberation Sans" font-weight="bold" font-size="23.40" transform="translate(1188.10 1957.50) rotate(-45) scale(1 1.040)"><text x="-84.59" y="0">0.98800</text></g>
<line x1="1256.00" y1="1928.10" x2="1256.00" y2="1936.90" stroke="#000" stroke-width="3.00"/>
<g font-family="Liberation Sans" font-weight="bold" font-size="23.40" transform="translate(1264.30 1957.50) rotate(-45) scale(1 1.040)"><text x="-84.59" y="0">0.99400</text></g>
<g font-family="Liberation Sans" font-weight="bold" font-size="24.90" transform="translate(778.20 1885.67) rotate(-90)"><text x="0.00" y="0">Combination index</text></g>
<g font-family="Liberation Sans" font-weight="bold" font-size="25.60" transform="translate(962.66 2053.70)"><text x="0.00" y="0">Fraction affected</text></g>
<circle cx="847.50" cy="1724.80" r="2.40"/>
<circle cx="861.23" cy="1724.80" r="2.40"/>
<circle cx="874.96" cy="1724.80" r="2.40"/>
<circle cx="888.69" cy="1724.80" r="2.40"/>
<circle cx="902.42" cy="1724.80" r="2.40"/>
<circle cx="916.16" cy="1724.80" r="2.40"/>
<circle cx="929.89" cy="1724.80" r="2.40"/>
<circle cx="943.62" cy="1724.80" r="2.40"/>
<circle cx="957.35" cy="1724.80" r="2.40"/>
<circle cx="971.08" cy="1724.80" r="2.40"/>
<circle cx="984.81" cy="1724.80" r="2.40"/>
<circle cx="998.54" cy="1724.80" r="2.40"/>
<circle cx="1012.28" cy="1724.80" r="2.40"/>
<circle cx="1026.01" cy="1724.80" r="2.40"/>
<circle cx="1039.74" cy="1724.80" r="2.40"/>
<circle cx="1053.47" cy="1724.80" r="2.40"/>
<circle cx="1067.20" cy="1724.80" r="2.40"/>
<circle cx="1080.93" cy="1724.80" r="2.40"/>
<circle cx="1094.66" cy="1724.80" r="2.40"/>
<circle cx="1108.39" cy="1724.80" r="2.40"/>
<circle cx="1122.12" cy="1724.80" r="2.40"/>
<circle cx="1135.86" cy="1724.80" r="2.40"/>
<circle cx="1149.59" cy="1724.80" r="2.40"/>
<circle cx="1163.32" cy="1724.80" r="2.40"/>
<circle cx="1177.05" cy="1724.80" r="2.40"/>
<circle cx="1190.78" cy="1724.80" r="2.40"/>
<circle cx="1204.51" cy="1724.80" r="2.40"/>
<circle cx="1218.24" cy="1724.80" r="2.40"/>
<circle cx="1231.98" cy="1724.80" r="2.40"/>
<circle cx="1245.71" cy="1724.80" r="2.40"/>
<circle cx="1259.44" cy="1724.80" r="2.40"/>
<circle cx="1273.17" cy="1724.80" r="2.40"/>
<circle cx="1286.90" cy="1724.80" r="2.40"/>
<polyline fill="none" stroke="#000" stroke-width="3.00" stroke-linejoin="miter" points="875.00,1775.70 951.20,1774.70 1027.40,1797.50 1103.60,1857.20 1179.80,1908.10 1256.00,1908.10"/>
<circle cx="875.00" cy="1775.70" r="6.20"/>
<circle cx="951.20" cy="1774.70" r="6.20"/>
<circle cx="1027.40" cy="1797.50" r="6.20"/>
<circle cx="1103.60" cy="1857.20" r="6.20"/>
<circle cx="1179.80" cy="1908.10" r="6.20"/>
<circle cx="1256.00" cy="1908.10" r="6.20"/>
</svg></body></html>
